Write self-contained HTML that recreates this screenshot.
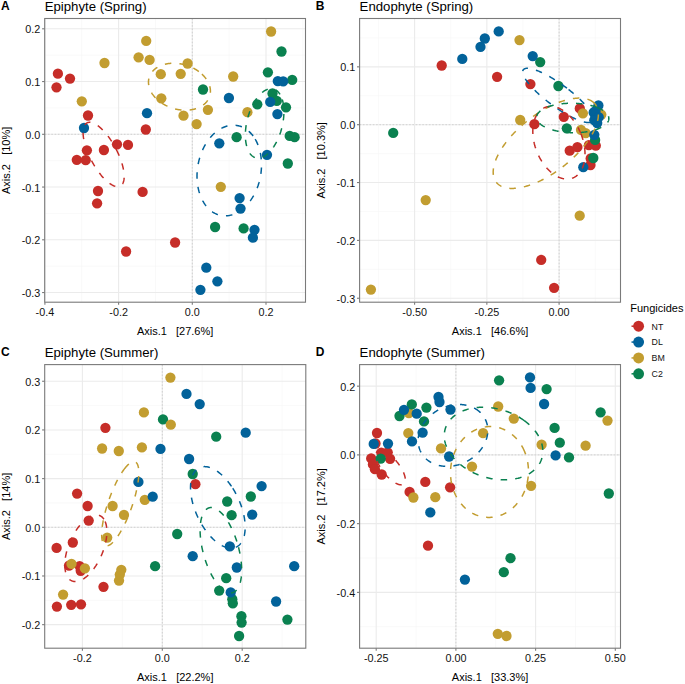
<!DOCTYPE html><html><head><meta charset="utf-8"><style>html,body{margin:0;padding:0;background:#fff;}svg{display:block;}</style></head><body>
<svg width="685" height="684" viewBox="0 0 685 684" font-family="'Liberation Sans', sans-serif">
<rect width="685" height="684" fill="#fff"/>
<line x1="81.75" y1="18.5" x2="81.75" y2="302.2" stroke="#F5F5F5" stroke-width="0.6"/>
<line x1="155.45" y1="18.5" x2="155.45" y2="302.2" stroke="#F5F5F5" stroke-width="0.6"/>
<line x1="229.15" y1="18.5" x2="229.15" y2="302.2" stroke="#F5F5F5" stroke-width="0.6"/>
<line x1="302.85" y1="18.5" x2="302.85" y2="302.2" stroke="#F5F5F5" stroke-width="0.6"/>
<line x1="44.7" y1="55.18" x2="305.5" y2="55.18" stroke="#F5F5F5" stroke-width="0.6"/>
<line x1="44.7" y1="107.93" x2="305.5" y2="107.93" stroke="#F5F5F5" stroke-width="0.6"/>
<line x1="44.7" y1="160.68" x2="305.5" y2="160.68" stroke="#F5F5F5" stroke-width="0.6"/>
<line x1="44.7" y1="213.43" x2="305.5" y2="213.43" stroke="#F5F5F5" stroke-width="0.6"/>
<line x1="44.7" y1="266.18" x2="305.5" y2="266.18" stroke="#F5F5F5" stroke-width="0.6"/>
<line x1="44.9" y1="18.5" x2="44.9" y2="302.2" stroke="#EBEBEB" stroke-width="1.1"/>
<line x1="118.6" y1="18.5" x2="118.6" y2="302.2" stroke="#EBEBEB" stroke-width="1.1"/>
<line x1="192.3" y1="18.5" x2="192.3" y2="302.2" stroke="#EBEBEB" stroke-width="1.1"/>
<line x1="266" y1="18.5" x2="266" y2="302.2" stroke="#EBEBEB" stroke-width="1.1"/>
<line x1="44.7" y1="28.8" x2="305.5" y2="28.8" stroke="#EBEBEB" stroke-width="1.1"/>
<line x1="44.7" y1="81.55" x2="305.5" y2="81.55" stroke="#EBEBEB" stroke-width="1.1"/>
<line x1="44.7" y1="134.3" x2="305.5" y2="134.3" stroke="#EBEBEB" stroke-width="1.1"/>
<line x1="44.7" y1="187.05" x2="305.5" y2="187.05" stroke="#EBEBEB" stroke-width="1.1"/>
<line x1="44.7" y1="239.8" x2="305.5" y2="239.8" stroke="#EBEBEB" stroke-width="1.1"/>
<line x1="44.7" y1="292.55" x2="305.5" y2="292.55" stroke="#EBEBEB" stroke-width="1.1"/>
<line x1="192.3" y1="18.5" x2="192.3" y2="302.2" stroke="#c4c4c4" stroke-width="0.7" stroke-dasharray="1.6 1.7"/>
<line x1="44.7" y1="134.3" x2="305.5" y2="134.3" stroke="#c4c4c4" stroke-width="0.7" stroke-dasharray="1.6 1.7"/>
<circle cx="57.9" cy="73.7" r="5.15" fill="#C62D28"/>
<circle cx="70" cy="78.6" r="5.15" fill="#C62D28"/>
<circle cx="56.5" cy="87.3" r="5.15" fill="#C62D28"/>
<circle cx="88" cy="115.5" r="5.15" fill="#C62D28"/>
<circle cx="86.9" cy="150.3" r="5.15" fill="#C62D28"/>
<circle cx="103.9" cy="150" r="5.15" fill="#C62D28"/>
<circle cx="117" cy="144.3" r="5.15" fill="#C62D28"/>
<circle cx="128" cy="144.9" r="5.15" fill="#C62D28"/>
<circle cx="145.8" cy="129.5" r="5.15" fill="#C62D28"/>
<circle cx="76.8" cy="159.8" r="5.15" fill="#C62D28"/>
<circle cx="85.7" cy="160.2" r="5.15" fill="#C62D28"/>
<circle cx="98" cy="191" r="5.15" fill="#C62D28"/>
<circle cx="97.1" cy="203.3" r="5.15" fill="#C62D28"/>
<circle cx="142.6" cy="191.9" r="5.15" fill="#C62D28"/>
<circle cx="126.1" cy="251.5" r="5.15" fill="#C62D28"/>
<circle cx="175.1" cy="242.5" r="5.15" fill="#C62D28"/>
<circle cx="146.2" cy="40.9" r="5.15" fill="#C29D30"/>
<circle cx="104.5" cy="63" r="5.15" fill="#C29D30"/>
<circle cx="138.6" cy="57.3" r="5.15" fill="#C29D30"/>
<circle cx="149.6" cy="59.9" r="5.15" fill="#C29D30"/>
<circle cx="160.8" cy="74.2" r="5.15" fill="#C29D30"/>
<circle cx="180.7" cy="73.8" r="5.15" fill="#C29D30"/>
<circle cx="187.6" cy="63.5" r="5.15" fill="#C29D30"/>
<circle cx="81.8" cy="101.3" r="5.15" fill="#C29D30"/>
<circle cx="161.3" cy="98.3" r="5.15" fill="#C29D30"/>
<circle cx="207.9" cy="109.8" r="5.15" fill="#C29D30"/>
<circle cx="183.5" cy="115.7" r="5.15" fill="#C29D30"/>
<circle cx="196.6" cy="124.1" r="5.15" fill="#C29D30"/>
<circle cx="233.2" cy="76.5" r="5.15" fill="#C29D30"/>
<circle cx="247.4" cy="112.2" r="5.15" fill="#C29D30"/>
<circle cx="271.1" cy="31.5" r="5.15" fill="#C29D30"/>
<circle cx="220.8" cy="186.8" r="5.15" fill="#C29D30"/>
<circle cx="281.5" cy="51.5" r="5.15" fill="#0A8150"/>
<circle cx="267.9" cy="72.3" r="5.15" fill="#0A8150"/>
<circle cx="292.2" cy="79.9" r="5.15" fill="#0A8150"/>
<circle cx="203" cy="89.5" r="5.15" fill="#0A8150"/>
<circle cx="272.5" cy="93.5" r="5.15" fill="#0A8150"/>
<circle cx="276.8" cy="100.9" r="5.15" fill="#0A8150"/>
<circle cx="257.3" cy="104.3" r="5.15" fill="#0A8150"/>
<circle cx="286" cy="107.3" r="5.15" fill="#0A8150"/>
<circle cx="236.6" cy="137.2" r="5.15" fill="#0A8150"/>
<circle cx="289.7" cy="135.9" r="5.15" fill="#0A8150"/>
<circle cx="294.6" cy="137.2" r="5.15" fill="#0A8150"/>
<circle cx="287.8" cy="163.5" r="5.15" fill="#0A8150"/>
<circle cx="215.1" cy="227" r="5.15" fill="#0A8150"/>
<circle cx="243.6" cy="228.4" r="5.15" fill="#0A8150"/>
<circle cx="84" cy="128" r="5.15" fill="#02629A"/>
<circle cx="147" cy="113.2" r="5.15" fill="#02629A"/>
<circle cx="228.9" cy="98" r="5.15" fill="#02629A"/>
<circle cx="277.8" cy="81.1" r="5.15" fill="#02629A"/>
<circle cx="283.2" cy="81.3" r="5.15" fill="#02629A"/>
<circle cx="277.4" cy="114.1" r="5.15" fill="#02629A"/>
<circle cx="219.3" cy="143.3" r="5.15" fill="#02629A"/>
<circle cx="267" cy="154.8" r="5.15" fill="#02629A"/>
<circle cx="239.6" cy="198.1" r="5.15" fill="#02629A"/>
<circle cx="240.5" cy="208.6" r="5.15" fill="#02629A"/>
<circle cx="254.5" cy="229.8" r="5.15" fill="#02629A"/>
<circle cx="252.9" cy="237.7" r="5.15" fill="#02629A"/>
<circle cx="206.3" cy="267.7" r="5.15" fill="#02629A"/>
<circle cx="217.4" cy="281.3" r="5.15" fill="#02629A"/>
<circle cx="200.4" cy="289.8" r="5.15" fill="#02629A"/>
<circle cx="270.2" cy="101.9" r="5.15" fill="#02629A"/>
<path d="M118.60,154.35 L118.30,153.67 L118.00,153.00 L117.69,152.33 L117.37,151.65 L117.05,150.98 L116.72,150.31 L116.39,149.65 L116.05,148.98 L115.70,148.32 L115.35,147.66 L114.99,147.00 L114.63,146.35 L114.27,145.70 L113.90,145.05 L113.52,144.41 L113.14,143.77 L112.76,143.13 L112.37,142.51 L111.98,141.88 L111.59,141.27 L111.19,140.65 L110.79,140.05 L110.38,139.45 L109.97,138.86 L109.56,138.27 L109.15,137.69 L108.73,137.12 L108.32,136.56 L107.90,136.00 L107.47,135.45 L107.05,134.91 L106.63,134.38 L106.20,133.86 L105.77,133.35 L105.34,132.84 L104.91,132.35 L104.48,131.86 L104.05,131.39 L103.62,130.92 L103.19,130.47 L102.76,130.03 L102.33,129.59 L101.90,129.17 L101.48,128.76 L101.05,128.36 L100.62,127.97 L100.20,127.60 L99.77,127.23 L99.35,126.88 L98.93,126.54 L98.51,126.21 L98.10,125.90 L97.68,125.59 L97.27,125.30 L96.87,125.02 L96.46,124.76 L96.06,124.51 L95.66,124.27 L95.27,124.04 L94.87,123.83 L94.49,123.63 L94.10,123.45 L93.72,123.28 L93.35,123.12 L92.98,122.97 L92.61,122.84 L92.25,122.73 L91.90,122.63 L91.55,122.54 L91.20,122.46 L90.86,122.40 L90.53,122.36 L90.20,122.32 L89.87,122.31 L89.56,122.30 L89.25,122.31 L88.94,122.34 L88.64,122.38 L88.35,122.43 L88.07,122.49 L87.79,122.58 L87.52,122.67 L87.26,122.78 L87.00,122.90 L86.75,123.04 L86.51,123.19 L86.27,123.35 L86.05,123.53 L85.83,123.72 L85.62,123.93 L85.41,124.14 L85.22,124.38 L85.03,124.62 L84.85,124.88 L84.68,125.15 L84.52,125.43 L84.36,125.73 L84.22,126.04 L84.08,126.36 L83.95,126.69 L83.83,127.04 L83.72,127.40 L83.62,127.77 L83.52,128.15 L83.44,128.54 L83.36,128.95 L83.30,129.36 L83.24,129.79 L83.19,130.23 L83.15,130.68 L83.12,131.13 L83.09,131.60 L83.08,132.08 L83.07,132.57 L83.08,133.07 L83.09,133.58 L83.12,134.09 L83.15,134.62 L83.19,135.16 L83.24,135.70 L83.30,136.25 L83.36,136.81 L83.44,137.38 L83.52,137.95 L83.62,138.53 L83.72,139.12 L83.83,139.72 L83.95,140.32 L84.08,140.93 L84.22,141.54 L84.36,142.16 L84.52,142.79 L84.68,143.42 L84.85,144.06 L85.03,144.70 L85.22,145.34 L85.41,145.99 L85.62,146.64 L85.83,147.30 L86.05,147.96 L86.27,148.62 L86.51,149.28 L86.75,149.95 L87.00,150.62 L87.26,151.29 L87.52,151.96 L87.79,152.63 L88.07,153.31 L88.35,153.98 L88.64,154.65 L88.94,155.33 L89.25,156.00 L89.56,156.68 L89.87,157.35 L90.20,158.02 L90.52,158.69 L90.86,159.36 L91.20,160.02 L91.54,160.68 L91.90,161.34 L92.25,162.00 L92.61,162.66 L92.98,163.31 L93.35,163.95 L93.72,164.60 L94.10,165.23 L94.49,165.87 L94.87,166.50 L95.26,167.12 L95.66,167.74 L96.06,168.35 L96.46,168.95 L96.87,169.55 L97.27,170.15 L97.68,170.73 L98.10,171.31 L98.51,171.88 L98.93,172.45 L99.35,173.00 L99.77,173.55 L100.20,174.09 L100.62,174.62 L101.05,175.14 L101.47,175.66 L101.90,176.16 L102.33,176.65 L102.76,177.14 L103.19,177.61 L103.62,178.08 L104.05,178.53 L104.48,178.98 L104.91,179.41 L105.34,179.83 L105.77,180.24 L106.20,180.64 L106.62,181.03 L107.05,181.40 L107.47,181.77 L107.90,182.12 L108.32,182.46 L108.73,182.79 L109.15,183.11 L109.56,183.41 L109.97,183.70 L110.38,183.98 L110.79,184.24 L111.19,184.49 L111.59,184.73 L111.98,184.96 L112.37,185.17 L112.76,185.37 L113.14,185.55 L113.52,185.73 L113.90,185.88 L114.27,186.03 L114.63,186.16 L114.99,186.27 L115.35,186.38 L115.70,186.46 L116.05,186.54 L116.39,186.60 L116.72,186.65 L117.05,186.68 L117.37,186.70 L117.69,186.70 L118.00,186.69 L118.30,186.67 L118.60,186.63 L118.89,186.57 L119.18,186.51 L119.46,186.43 L119.73,186.33 L119.99,186.22 L120.25,186.10 L120.50,185.96 L120.74,185.81 L120.97,185.65 L121.20,185.47 L121.42,185.28 L121.63,185.08 L121.83,184.86 L122.03,184.63 L122.22,184.38 L122.39,184.12 L122.57,183.85 L122.73,183.57 L122.88,183.27 L123.03,182.96 L123.17,182.64 L123.29,182.31 L123.41,181.96 L123.53,181.61 L123.63,181.24 L123.72,180.85 L123.81,180.46 L123.88,180.06 L123.95,179.64 L124.01,179.21 L124.06,178.78 L124.10,178.33 L124.13,177.87 L124.15,177.40 L124.17,176.92 L124.17,176.43 L124.17,175.93 L124.15,175.42 L124.13,174.91 L124.10,174.38 L124.06,173.85 L124.01,173.30 L123.95,172.75 L123.88,172.19 L123.81,171.63 L123.72,171.05 L123.63,170.47 L123.53,169.88 L123.41,169.28 L123.29,168.68 L123.17,168.07 L123.03,167.46 L122.88,166.84 L122.73,166.21 L122.57,165.58 L122.40,164.95 L122.22,164.31 L122.03,163.66 L121.83,163.01 L121.63,162.36 L121.42,161.71 L121.20,161.05 L120.97,160.38 L120.74,159.72 L120.50,159.05 L120.25,158.39 L119.99,157.72 L119.73,157.04 L119.46,156.37 L119.18,155.70 L118.89,155.02 L118.60,154.35 L118.60,154.35" fill="none" stroke="#C62D28" stroke-width="1.5" stroke-dasharray="6.5 8.16"/>
<path d="M198.82,71.55 L198.31,71.18 L197.79,70.81 L197.26,70.45 L196.73,70.10 L196.18,69.76 L195.63,69.42 L195.08,69.09 L194.51,68.77 L193.94,68.46 L193.37,68.15 L192.78,67.85 L192.20,67.56 L191.60,67.28 L191.00,67.01 L190.40,66.75 L189.79,66.49 L189.18,66.25 L188.56,66.01 L187.94,65.78 L187.31,65.56 L186.68,65.35 L186.05,65.15 L185.41,64.96 L184.78,64.78 L184.14,64.61 L183.49,64.45 L182.85,64.30 L182.20,64.15 L181.56,64.02 L180.91,63.90 L180.26,63.79 L179.61,63.68 L178.96,63.59 L178.32,63.51 L177.67,63.44 L177.02,63.38 L176.37,63.33 L175.73,63.28 L175.09,63.25 L174.44,63.23 L173.81,63.22 L173.17,63.22 L172.54,63.23 L171.90,63.25 L171.28,63.28 L170.65,63.33 L170.03,63.38 L169.42,63.44 L168.81,63.51 L168.20,63.59 L167.60,63.68 L167.00,63.79 L166.41,63.90 L165.82,64.02 L165.24,64.15 L164.67,64.30 L164.10,64.45 L163.54,64.61 L162.99,64.78 L162.45,64.96 L161.91,65.15 L161.38,65.35 L160.85,65.56 L160.34,65.78 L159.83,66.01 L159.34,66.25 L158.85,66.49 L158.37,66.75 L157.90,67.01 L157.44,67.29 L156.98,67.57 L156.54,67.86 L156.11,68.15 L155.69,68.46 L155.28,68.77 L154.88,69.09 L154.49,69.42 L154.11,69.76 L153.74,70.10 L153.39,70.46 L153.04,70.82 L152.71,71.18 L152.39,71.55 L152.08,71.93 L151.78,72.32 L151.50,72.71 L151.22,73.11 L150.96,73.51 L150.71,73.92 L150.48,74.34 L150.26,74.76 L150.04,75.19 L149.85,75.62 L149.66,76.05 L149.49,76.49 L149.33,76.94 L149.19,77.39 L149.06,77.84 L148.94,78.30 L148.84,78.76 L148.74,79.23 L148.67,79.69 L148.60,80.17 L148.55,80.64 L148.51,81.12 L148.49,81.60 L148.48,82.08 L148.48,82.56 L148.50,83.05 L148.53,83.53 L148.57,84.02 L148.63,84.51 L148.70,85.00 L148.79,85.49 L148.89,85.98 L149.00,86.48 L149.12,86.97 L149.26,87.46 L149.41,87.95 L149.58,88.44 L149.75,88.93 L149.95,89.42 L150.15,89.91 L150.37,90.40 L150.60,90.88 L150.84,91.37 L151.09,91.85 L151.36,92.33 L151.64,92.80 L151.93,93.28 L152.23,93.75 L152.55,94.22 L152.88,94.68 L153.21,95.14 L153.57,95.60 L153.93,96.06 L154.30,96.50 L154.68,96.95 L155.08,97.39 L155.48,97.83 L155.90,98.26 L156.33,98.68 L156.76,99.11 L157.21,99.52 L157.67,99.93 L158.13,100.34 L158.61,100.73 L159.09,101.13 L159.59,101.51 L160.09,101.89 L160.60,102.26 L161.12,102.63 L161.64,102.99 L162.18,103.34 L162.72,103.68 L163.27,104.02 L163.83,104.35 L164.39,104.67 L164.96,104.98 L165.54,105.29 L166.12,105.59 L166.71,105.88 L167.30,106.16 L167.90,106.43 L168.51,106.69 L169.11,106.95 L169.73,107.20 L170.35,107.43 L170.97,107.66 L171.59,107.88 L172.22,108.09 L172.86,108.29 L173.49,108.48 L174.13,108.66 L174.77,108.83 L175.41,108.99 L176.05,109.15 L176.70,109.29 L177.35,109.42 L177.99,109.54 L178.64,109.66 L179.29,109.76 L179.94,109.85 L180.59,109.93 L181.24,110.00 L181.88,110.07 L182.53,110.12 L183.17,110.16 L183.82,110.19 L184.46,110.21 L185.10,110.22 L185.73,110.22 L186.37,110.21 L187.00,110.19 L187.63,110.16 L188.25,110.12 L188.87,110.07 L189.49,110.00 L190.10,109.93 L190.70,109.85 L191.31,109.76 L191.90,109.66 L192.49,109.54 L193.08,109.42 L193.66,109.29 L194.23,109.15 L194.80,108.99 L195.36,108.83 L195.91,108.66 L196.46,108.48 L197.00,108.29 L197.53,108.09 L198.05,107.88 L198.56,107.66 L199.07,107.43 L199.57,107.19 L200.06,106.95 L200.54,106.69 L201.01,106.43 L201.47,106.16 L201.92,105.88 L202.36,105.59 L202.79,105.29 L203.21,104.98 L203.62,104.67 L204.03,104.35 L204.41,104.02 L204.79,103.68 L205.16,103.34 L205.52,102.99 L205.86,102.63 L206.19,102.26 L206.52,101.89 L206.83,101.51 L207.12,101.12 L207.41,100.73 L207.68,100.33 L207.94,99.93 L208.19,99.52 L208.43,99.10 L208.65,98.68 L208.86,98.26 L209.06,97.83 L209.24,97.39 L209.41,96.95 L209.57,96.50 L209.71,96.05 L209.85,95.60 L209.96,95.14 L210.07,94.68 L210.16,94.22 L210.24,93.75 L210.30,93.28 L210.35,92.80 L210.39,92.33 L210.41,91.85 L210.42,91.37 L210.42,90.88 L210.40,90.40 L210.37,89.91 L210.33,89.42 L210.27,88.93 L210.20,88.44 L210.12,87.95 L210.02,87.46 L209.91,86.97 L209.78,86.47 L209.64,85.98 L209.49,85.49 L209.33,85.00 L209.15,84.51 L208.96,84.02 L208.75,83.53 L208.54,83.04 L208.31,82.56 L208.07,82.08 L207.81,81.59 L207.54,81.11 L207.27,80.64 L206.97,80.16 L206.67,79.69 L206.35,79.22 L206.03,78.76 L205.69,78.30 L205.34,77.84 L204.98,77.39 L204.60,76.94 L204.22,76.49 L203.82,76.05 L203.42,75.62 L203.00,75.18 L202.58,74.76 L202.14,74.34 L201.69,73.92 L201.24,73.51 L200.77,73.11 L200.30,72.71 L199.81,72.32 L199.32,71.93 L198.82,71.55 L198.82,71.55" fill="none" stroke="#C29D30" stroke-width="1.5" stroke-dasharray="6.5 8.14"/>
<path d="M253.13,136.03 L252.67,135.42 L252.20,134.83 L251.72,134.25 L251.23,133.69 L250.73,133.14 L250.22,132.62 L249.70,132.10 L249.18,131.61 L248.64,131.13 L248.10,130.67 L247.55,130.23 L246.98,129.80 L246.42,129.39 L245.84,129.00 L245.26,128.63 L244.67,128.28 L244.07,127.94 L243.47,127.63 L242.86,127.33 L242.24,127.05 L241.62,126.79 L241.00,126.55 L240.36,126.33 L239.73,126.13 L239.09,125.95 L238.44,125.79 L237.79,125.64 L237.14,125.52 L236.48,125.42 L235.82,125.33 L235.16,125.27 L234.49,125.23 L233.83,125.20 L233.16,125.20 L232.48,125.21 L231.81,125.25 L231.14,125.30 L230.46,125.38 L229.79,125.47 L229.11,125.59 L228.44,125.72 L227.76,125.88 L227.09,126.05 L226.41,126.25 L225.74,126.46 L225.07,126.69 L224.40,126.94 L223.74,127.21 L223.07,127.50 L222.41,127.81 L221.75,128.14 L221.10,128.48 L220.45,128.85 L219.80,129.23 L219.15,129.63 L218.52,130.05 L217.88,130.48 L217.25,130.94 L216.63,131.41 L216.01,131.89 L215.40,132.40 L214.79,132.92 L214.19,133.46 L213.59,134.01 L213.01,134.58 L212.43,135.17 L211.86,135.77 L211.29,136.39 L210.73,137.02 L210.18,137.67 L209.64,138.33 L209.11,139.00 L208.59,139.69 L208.08,140.40 L207.57,141.11 L207.08,141.84 L206.59,142.58 L206.12,143.33 L205.65,144.10 L205.20,144.88 L204.75,145.66 L204.32,146.46 L203.89,147.27 L203.48,148.09 L203.08,148.92 L202.69,149.76 L202.32,150.61 L201.95,151.47 L201.60,152.33 L201.26,153.21 L200.93,154.09 L200.61,154.97 L200.31,155.87 L200.02,156.77 L199.74,157.68 L199.47,158.59 L199.22,159.51 L198.98,160.43 L198.76,161.36 L198.54,162.29 L198.34,163.23 L198.16,164.16 L197.99,165.11 L197.83,166.05 L197.68,166.99 L197.55,167.94 L197.44,168.89 L197.33,169.84 L197.25,170.79 L197.17,171.74 L197.11,172.68 L197.06,173.63 L197.03,174.58 L197.01,175.52 L197.01,176.46 L197.02,177.40 L197.04,178.34 L197.08,179.27 L197.14,180.20 L197.20,181.13 L197.28,182.05 L197.38,182.96 L197.49,183.87 L197.61,184.78 L197.75,185.67 L197.90,186.57 L198.06,187.45 L198.24,188.33 L198.43,189.19 L198.63,190.05 L198.85,190.91 L199.08,191.75 L199.33,192.58 L199.59,193.41 L199.86,194.22 L200.14,195.02 L200.44,195.82 L200.75,196.60 L201.07,197.37 L201.40,198.13 L201.75,198.87 L202.11,199.61 L202.48,200.33 L202.86,201.04 L203.26,201.73 L203.66,202.41 L204.08,203.08 L204.50,203.73 L204.94,204.37 L205.39,204.99 L205.85,205.60 L206.32,206.19 L206.80,206.77 L207.29,207.33 L207.79,207.88 L208.30,208.41 L208.82,208.92 L209.34,209.41 L209.88,209.89 L210.42,210.35 L210.98,210.80 L211.54,211.22 L212.10,211.63 L212.68,212.02 L213.26,212.39 L213.85,212.74 L214.45,213.08 L215.05,213.40 L215.66,213.69 L216.28,213.97 L216.90,214.23 L217.53,214.47 L218.16,214.69 L218.79,214.89 L219.43,215.07 L220.08,215.24 L220.73,215.38 L221.38,215.50 L222.04,215.61 L222.70,215.69 L223.36,215.75 L224.03,215.80 L224.69,215.82 L225.36,215.82 L226.04,215.81 L226.71,215.77 L227.38,215.72 L228.06,215.64 L228.73,215.55 L229.41,215.43 L230.08,215.30 L230.76,215.14 L231.43,214.97 L232.11,214.78 L232.78,214.56 L233.45,214.33 L234.12,214.08 L234.78,213.81 L235.45,213.52 L236.11,213.21 L236.77,212.89 L237.42,212.54 L238.07,212.18 L238.72,211.79 L239.37,211.39 L240.01,210.98 L240.64,210.54 L241.27,210.09 L241.89,209.62 L242.51,209.13 L243.12,208.62 L243.73,208.10 L244.33,207.56 L244.93,207.01 L245.51,206.44 L246.09,205.85 L246.67,205.25 L247.23,204.63 L247.79,204.00 L248.34,203.35 L248.88,202.69 L249.41,202.02 L249.93,201.33 L250.44,200.63 L250.95,199.91 L251.44,199.18 L251.93,198.44 L252.41,197.69 L252.87,196.92 L253.33,196.15 L253.77,195.36 L254.20,194.56 L254.63,193.75 L255.04,192.93 L255.44,192.10 L255.83,191.26 L256.20,190.41 L256.57,189.55 L256.92,188.69 L257.26,187.82 L257.59,186.94 L257.91,186.05 L258.21,185.15 L258.50,184.25 L258.78,183.34 L259.05,182.43 L259.30,181.51 L259.54,180.59 L259.77,179.66 L259.98,178.73 L260.18,177.80 L260.36,176.86 L260.53,175.92 L260.69,174.97 L260.84,174.03 L260.97,173.08 L261.08,172.13 L261.19,171.18 L261.27,170.23 L261.35,169.29 L261.41,168.34 L261.46,167.39 L261.49,166.44 L261.51,165.50 L261.51,164.56 L261.50,163.62 L261.48,162.68 L261.44,161.75 L261.39,160.82 L261.32,159.89 L261.24,158.97 L261.14,158.06 L261.03,157.15 L260.91,156.25 L260.78,155.35 L260.62,154.46 L260.46,153.57 L260.28,152.70 L260.09,151.83 L259.89,150.97 L259.67,150.12 L259.44,149.27 L259.19,148.44 L258.93,147.62 L258.66,146.80 L258.38,146.00 L258.08,145.20 L257.77,144.42 L257.45,143.65 L257.12,142.89 L256.77,142.15 L256.41,141.41 L256.04,140.69 L255.66,139.99 L255.26,139.29 L254.86,138.61 L254.44,137.94 L254.02,137.29 L253.58,136.65 L253.13,136.03 L253.13,136.03" fill="none" stroke="#02629A" stroke-width="1.5" stroke-dasharray="6.5 8.18"/>
<path d="M280.07,94.47 L279.82,94.07 L279.57,93.69 L279.31,93.33 L279.05,92.97 L278.77,92.63 L278.50,92.30 L278.21,91.99 L277.92,91.69 L277.63,91.40 L277.33,91.13 L277.02,90.87 L276.71,90.62 L276.39,90.39 L276.07,90.18 L275.74,89.98 L275.41,89.79 L275.07,89.62 L274.73,89.46 L274.38,89.32 L274.03,89.19 L273.67,89.08 L273.31,88.99 L272.95,88.90 L272.59,88.84 L272.22,88.79 L271.84,88.75 L271.47,88.73 L271.09,88.72 L270.71,88.73 L270.32,88.76 L269.93,88.80 L269.54,88.85 L269.15,88.92 L268.76,89.01 L268.36,89.11 L267.97,89.23 L267.57,89.36 L267.17,89.50 L266.77,89.66 L266.37,89.84 L265.96,90.03 L265.56,90.23 L265.16,90.45 L264.75,90.69 L264.35,90.93 L263.95,91.20 L263.54,91.47 L263.14,91.76 L262.74,92.07 L262.34,92.38 L261.93,92.72 L261.54,93.06 L261.14,93.42 L260.74,93.79 L260.35,94.18 L259.95,94.57 L259.56,94.98 L259.18,95.41 L258.79,95.84 L258.41,96.29 L258.02,96.75 L257.65,97.22 L257.27,97.70 L256.90,98.19 L256.53,98.70 L256.17,99.21 L255.81,99.74 L255.45,100.27 L255.10,100.82 L254.75,101.38 L254.40,101.94 L254.06,102.52 L253.73,103.10 L253.40,103.70 L253.07,104.30 L252.75,104.91 L252.44,105.53 L252.13,106.15 L251.82,106.79 L251.52,107.43 L251.23,108.08 L250.94,108.73 L250.66,109.39 L250.39,110.06 L250.12,110.74 L249.86,111.41 L249.60,112.10 L249.35,112.79 L249.11,113.48 L248.87,114.18 L248.64,114.88 L248.42,115.59 L248.21,116.30 L248.00,117.01 L247.80,117.73 L247.61,118.45 L247.42,119.17 L247.24,119.89 L247.07,120.61 L246.91,121.34 L246.76,122.06 L246.61,122.79 L246.47,123.51 L246.34,124.24 L246.22,124.97 L246.10,125.69 L245.99,126.42 L245.90,127.14 L245.81,127.86 L245.72,128.58 L245.65,129.30 L245.58,130.01 L245.53,130.73 L245.48,131.43 L245.44,132.14 L245.41,132.84 L245.38,133.54 L245.37,134.23 L245.36,134.92 L245.36,135.60 L245.37,136.28 L245.39,136.95 L245.42,137.62 L245.46,138.28 L245.50,138.93 L245.55,139.58 L245.61,140.22 L245.68,140.85 L245.76,141.47 L245.85,142.09 L245.94,142.70 L246.04,143.30 L246.15,143.89 L246.27,144.47 L246.40,145.05 L246.53,145.61 L246.68,146.16 L246.83,146.71 L246.98,147.24 L247.15,147.76 L247.32,148.28 L247.51,148.78 L247.69,149.27 L247.89,149.75 L248.09,150.21 L248.30,150.67 L248.52,151.11 L248.75,151.54 L248.98,151.96 L249.22,152.37 L249.46,152.77 L249.72,153.15 L249.98,153.51 L250.24,153.87 L250.51,154.21 L250.79,154.54 L251.07,154.85 L251.36,155.15 L251.66,155.44 L251.96,155.71 L252.27,155.97 L252.58,156.22 L252.90,156.45 L253.22,156.66 L253.55,156.86 L253.88,157.05 L254.22,157.22 L254.56,157.38 L254.91,157.52 L255.26,157.65 L255.61,157.76 L255.97,157.85 L256.34,157.94 L256.70,158.00 L257.07,158.05 L257.44,158.09 L257.82,158.11 L258.20,158.12 L258.58,158.11 L258.97,158.08 L259.35,158.04 L259.74,157.99 L260.13,157.92 L260.53,157.83 L260.92,157.73 L261.32,157.61 L261.72,157.48 L262.12,157.34 L262.52,157.18 L262.92,157.00 L263.32,156.81 L263.73,156.61 L264.13,156.39 L264.53,156.15 L264.94,155.91 L265.34,155.64 L265.75,155.37 L266.15,155.08 L266.55,154.77 L266.95,154.46 L267.35,154.12 L267.75,153.78 L268.15,153.42 L268.55,153.05 L268.94,152.66 L269.33,152.27 L269.72,151.86 L270.11,151.43 L270.50,151.00 L270.88,150.55 L271.26,150.09 L271.64,149.62 L272.02,149.14 L272.39,148.65 L272.76,148.14 L273.12,147.63 L273.48,147.10 L273.84,146.57 L274.19,146.02 L274.54,145.46 L274.88,144.90 L275.22,144.32 L275.56,143.74 L275.89,143.14 L276.21,142.54 L276.54,141.93 L276.85,141.31 L277.16,140.69 L277.47,140.05 L277.76,139.41 L278.06,138.76 L278.34,138.11 L278.63,137.45 L278.90,136.78 L279.17,136.10 L279.43,135.43 L279.69,134.74 L279.94,134.05 L280.18,133.36 L280.42,132.66 L280.64,131.96 L280.87,131.25 L281.08,130.54 L281.29,129.83 L281.49,129.11 L281.68,128.39 L281.87,127.67 L282.04,126.95 L282.21,126.23 L282.38,125.50 L282.53,124.78 L282.68,124.05 L282.82,123.33 L282.95,122.60 L283.07,121.87 L283.19,121.15 L283.29,120.42 L283.39,119.70 L283.48,118.98 L283.56,118.26 L283.64,117.54 L283.70,116.83 L283.76,116.11 L283.81,115.41 L283.85,114.70 L283.88,114.00 L283.90,113.30 L283.92,112.61 L283.93,111.92 L283.92,111.24 L283.91,110.56 L283.89,109.89 L283.87,109.22 L283.83,108.56 L283.79,107.91 L283.74,107.26 L283.67,106.62 L283.60,105.99 L283.53,105.37 L283.44,104.75 L283.35,104.14 L283.24,103.54 L283.13,102.95 L283.02,102.37 L282.89,101.79 L282.75,101.23 L282.61,100.68 L282.46,100.13 L282.30,99.60 L282.14,99.08 L281.96,98.56 L281.78,98.06 L281.59,97.57 L281.40,97.09 L281.19,96.63 L280.98,96.17 L280.76,95.73 L280.54,95.30 L280.31,94.88 L280.07,94.47 L280.07,94.47" fill="none" stroke="#0A8150" stroke-width="1.5" stroke-dasharray="6.5 8.04"/>
<rect x="44.7" y="18.5" width="260.8" height="283.7" fill="none" stroke="#7a7a7a" stroke-width="1.1"/>
<line x1="44.9" y1="302.2" x2="44.9" y2="304.8" stroke="#7a7a7a" stroke-width="1.1"/>
<text x="44.9" y="315.7" font-size="10.8" fill="#111" text-anchor="middle">-0.4</text>
<line x1="118.6" y1="302.2" x2="118.6" y2="304.8" stroke="#7a7a7a" stroke-width="1.1"/>
<text x="118.6" y="315.7" font-size="10.8" fill="#111" text-anchor="middle">-0.2</text>
<line x1="192.3" y1="302.2" x2="192.3" y2="304.8" stroke="#7a7a7a" stroke-width="1.1"/>
<text x="192.3" y="315.7" font-size="10.8" fill="#111" text-anchor="middle">0.0</text>
<line x1="266" y1="302.2" x2="266" y2="304.8" stroke="#7a7a7a" stroke-width="1.1"/>
<text x="266" y="315.7" font-size="10.8" fill="#111" text-anchor="middle">0.2</text>
<line x1="42.1" y1="28.8" x2="44.7" y2="28.8" stroke="#7a7a7a" stroke-width="1.1"/>
<text x="40.3" y="33.3" font-size="10.8" fill="#111" text-anchor="end">0.2</text>
<line x1="42.1" y1="81.55" x2="44.7" y2="81.55" stroke="#7a7a7a" stroke-width="1.1"/>
<text x="40.3" y="86.05" font-size="10.8" fill="#111" text-anchor="end">0.1</text>
<line x1="42.1" y1="134.3" x2="44.7" y2="134.3" stroke="#7a7a7a" stroke-width="1.1"/>
<text x="40.3" y="138.8" font-size="10.8" fill="#111" text-anchor="end">0.0</text>
<line x1="42.1" y1="187.05" x2="44.7" y2="187.05" stroke="#7a7a7a" stroke-width="1.1"/>
<text x="40.3" y="191.55" font-size="10.8" fill="#111" text-anchor="end">-0.1</text>
<line x1="42.1" y1="239.8" x2="44.7" y2="239.8" stroke="#7a7a7a" stroke-width="1.1"/>
<text x="40.3" y="244.3" font-size="10.8" fill="#111" text-anchor="end">-0.2</text>
<line x1="42.1" y1="292.55" x2="44.7" y2="292.55" stroke="#7a7a7a" stroke-width="1.1"/>
<text x="40.3" y="297.05" font-size="10.8" fill="#111" text-anchor="end">-0.3</text>
<text x="175.1" y="334.8" font-size="11" fill="#000" text-anchor="middle" xml:space="preserve">Axis.1   [27.6%]</text>
<text x="10.1" y="160.35" font-size="11" fill="#000" text-anchor="middle" transform="rotate(-90 10.1 160.35)" xml:space="preserve">Axis.2   [10%]</text>
<text x="44.7" y="10.9" font-size="13.2" fill="#000">Epiphyte (Spring)</text>
<text x="0.9" y="10.1" font-size="12" font-weight="bold" fill="#000">A</text>
<line x1="378.48" y1="18.5" x2="378.48" y2="302.2" stroke="#F5F5F5" stroke-width="0.6"/>
<line x1="450.73" y1="18.5" x2="450.73" y2="302.2" stroke="#F5F5F5" stroke-width="0.6"/>
<line x1="522.98" y1="18.5" x2="522.98" y2="302.2" stroke="#F5F5F5" stroke-width="0.6"/>
<line x1="595.23" y1="18.5" x2="595.23" y2="302.2" stroke="#F5F5F5" stroke-width="0.6"/>
<line x1="359.6" y1="37.93" x2="620.5" y2="37.93" stroke="#F5F5F5" stroke-width="0.6"/>
<line x1="359.6" y1="95.78" x2="620.5" y2="95.78" stroke="#F5F5F5" stroke-width="0.6"/>
<line x1="359.6" y1="153.62" x2="620.5" y2="153.62" stroke="#F5F5F5" stroke-width="0.6"/>
<line x1="359.6" y1="211.47" x2="620.5" y2="211.47" stroke="#F5F5F5" stroke-width="0.6"/>
<line x1="359.6" y1="269.32" x2="620.5" y2="269.32" stroke="#F5F5F5" stroke-width="0.6"/>
<line x1="414.6" y1="18.5" x2="414.6" y2="302.2" stroke="#EBEBEB" stroke-width="1.1"/>
<line x1="486.85" y1="18.5" x2="486.85" y2="302.2" stroke="#EBEBEB" stroke-width="1.1"/>
<line x1="559.1" y1="18.5" x2="559.1" y2="302.2" stroke="#EBEBEB" stroke-width="1.1"/>
<line x1="359.6" y1="66.85" x2="620.5" y2="66.85" stroke="#EBEBEB" stroke-width="1.1"/>
<line x1="359.6" y1="124.7" x2="620.5" y2="124.7" stroke="#EBEBEB" stroke-width="1.1"/>
<line x1="359.6" y1="182.55" x2="620.5" y2="182.55" stroke="#EBEBEB" stroke-width="1.1"/>
<line x1="359.6" y1="240.4" x2="620.5" y2="240.4" stroke="#EBEBEB" stroke-width="1.1"/>
<line x1="359.6" y1="298.25" x2="620.5" y2="298.25" stroke="#EBEBEB" stroke-width="1.1"/>
<line x1="559.1" y1="18.5" x2="559.1" y2="302.2" stroke="#c4c4c4" stroke-width="0.7" stroke-dasharray="1.6 1.7"/>
<line x1="359.6" y1="124.7" x2="620.5" y2="124.7" stroke="#c4c4c4" stroke-width="0.7" stroke-dasharray="1.6 1.7"/>
<circle cx="441.7" cy="65.5" r="5.15" fill="#C62D28"/>
<circle cx="497.1" cy="76.8" r="5.15" fill="#C62D28"/>
<circle cx="530.4" cy="84.1" r="5.15" fill="#C62D28"/>
<circle cx="534.4" cy="124.2" r="5.15" fill="#C62D28"/>
<circle cx="563.8" cy="116.8" r="5.15" fill="#C62D28"/>
<circle cx="579.8" cy="108.4" r="5.15" fill="#C62D28"/>
<circle cx="588.9" cy="145.2" r="5.15" fill="#C62D28"/>
<circle cx="595.8" cy="145.7" r="5.15" fill="#C62D28"/>
<circle cx="569.7" cy="150.7" r="5.15" fill="#C62D28"/>
<circle cx="577.4" cy="147.1" r="5.15" fill="#C62D28"/>
<circle cx="590.5" cy="165" r="5.15" fill="#C62D28"/>
<circle cx="590.7" cy="158.5" r="5.15" fill="#C62D28"/>
<circle cx="541.2" cy="259.9" r="5.15" fill="#C62D28"/>
<circle cx="554.1" cy="287.8" r="5.15" fill="#C62D28"/>
<circle cx="519.5" cy="40.1" r="5.15" fill="#C29D30"/>
<circle cx="520.2" cy="120" r="5.15" fill="#C29D30"/>
<circle cx="601.3" cy="114.6" r="5.15" fill="#C29D30"/>
<circle cx="582.9" cy="113.3" r="5.15" fill="#C29D30"/>
<circle cx="581" cy="129.9" r="5.15" fill="#C29D30"/>
<circle cx="585.7" cy="133.1" r="5.15" fill="#C29D30"/>
<circle cx="579.7" cy="215.7" r="5.15" fill="#C29D30"/>
<circle cx="425.7" cy="200.1" r="5.15" fill="#C29D30"/>
<circle cx="370.9" cy="289.6" r="5.15" fill="#C29D30"/>
<circle cx="393.2" cy="132.9" r="5.15" fill="#0A8150"/>
<circle cx="540.2" cy="62.1" r="5.15" fill="#0A8150"/>
<circle cx="558.4" cy="86" r="5.15" fill="#0A8150"/>
<circle cx="566.8" cy="128.3" r="5.15" fill="#0A8150"/>
<circle cx="595.1" cy="139.9" r="5.15" fill="#0A8150"/>
<circle cx="593.3" cy="158" r="5.15" fill="#0A8150"/>
<circle cx="498.7" cy="31.4" r="5.15" fill="#02629A"/>
<circle cx="484.8" cy="38.5" r="5.15" fill="#02629A"/>
<circle cx="480.5" cy="46.9" r="5.15" fill="#02629A"/>
<circle cx="462.3" cy="58.9" r="5.15" fill="#02629A"/>
<circle cx="532.7" cy="56.1" r="5.15" fill="#02629A"/>
<circle cx="598.4" cy="105.5" r="5.15" fill="#02629A"/>
<circle cx="593.7" cy="112.5" r="5.15" fill="#02629A"/>
<circle cx="595.4" cy="111.2" r="5.15" fill="#02629A"/>
<circle cx="598.7" cy="117.2" r="5.15" fill="#02629A"/>
<circle cx="594.3" cy="120.2" r="5.15" fill="#02629A"/>
<circle cx="597.2" cy="123.1" r="5.15" fill="#02629A"/>
<circle cx="594.3" cy="134.8" r="5.15" fill="#02629A"/>
<circle cx="583.3" cy="167.2" r="5.15" fill="#02629A"/>
<path d="M566.96,88.23 L566.24,87.68 L565.52,87.14 L564.80,86.60 L564.07,86.06 L563.34,85.53 L562.61,85.00 L561.87,84.48 L561.14,83.96 L560.40,83.45 L559.66,82.94 L558.92,82.44 L558.18,81.95 L557.44,81.46 L556.70,80.97 L555.96,80.49 L555.23,80.02 L554.49,79.56 L553.75,79.10 L553.02,78.65 L552.29,78.21 L551.56,77.77 L550.84,77.34 L550.11,76.92 L549.39,76.51 L548.68,76.11 L547.97,75.71 L547.26,75.33 L546.56,74.95 L545.86,74.58 L545.17,74.22 L544.48,73.87 L543.80,73.53 L543.13,73.20 L542.46,72.88 L541.80,72.57 L541.14,72.27 L540.50,71.98 L539.86,71.70 L539.23,71.42 L538.61,71.16 L537.99,70.92 L537.39,70.68 L536.79,70.45 L536.20,70.23 L535.63,70.03 L535.06,69.83 L534.50,69.65 L533.95,69.48 L533.42,69.32 L532.89,69.17 L532.37,69.03 L531.87,68.90 L531.38,68.79 L530.90,68.69 L530.43,68.60 L529.97,68.52 L529.53,68.45 L529.10,68.39 L528.68,68.35 L528.27,68.32 L527.88,68.30 L527.50,68.29 L527.13,68.29 L526.78,68.31 L526.44,68.34 L526.11,68.38 L525.80,68.43 L525.50,68.49 L525.22,68.57 L524.95,68.65 L524.69,68.75 L524.45,68.86 L524.23,68.98 L524.02,69.12 L523.82,69.26 L523.64,69.42 L523.48,69.59 L523.33,69.77 L523.19,69.96 L523.07,70.16 L522.97,70.37 L522.88,70.60 L522.80,70.83 L522.74,71.08 L522.70,71.33 L522.67,71.60 L522.66,71.88 L522.67,72.16 L522.68,72.46 L522.72,72.77 L522.77,73.09 L522.83,73.41 L522.91,73.75 L523.01,74.10 L523.12,74.45 L523.25,74.82 L523.39,75.19 L523.55,75.58 L523.72,75.97 L523.91,76.37 L524.11,76.78 L524.33,77.20 L524.56,77.62 L524.80,78.05 L525.07,78.49 L525.34,78.94 L525.63,79.40 L525.93,79.86 L526.25,80.33 L526.58,80.80 L526.93,81.29 L527.29,81.77 L527.66,82.27 L528.05,82.77 L528.45,83.27 L528.86,83.78 L529.28,84.30 L529.72,84.82 L530.17,85.35 L530.63,85.88 L531.11,86.41 L531.59,86.95 L532.09,87.49 L532.60,88.04 L533.12,88.58 L533.65,89.14 L534.19,89.69 L534.74,90.25 L535.31,90.81 L535.88,91.37 L536.46,91.93 L537.05,92.49 L537.65,93.06 L538.26,93.63 L538.88,94.19 L539.50,94.76 L540.14,95.33 L540.78,95.90 L541.43,96.47 L542.09,97.03 L542.75,97.60 L543.42,98.17 L544.10,98.73 L544.78,99.30 L545.47,99.86 L546.17,100.42 L546.87,100.98 L547.57,101.53 L548.28,102.08 L548.99,102.63 L549.71,103.18 L550.43,103.72 L551.15,104.26 L551.88,104.80 L552.61,105.33 L553.34,105.86 L554.08,106.38 L554.81,106.90 L555.55,107.41 L556.29,107.92 L557.03,108.42 L557.77,108.91 L558.51,109.40 L559.25,109.89 L559.99,110.37 L560.72,110.84 L561.46,111.30 L562.20,111.76 L562.93,112.21 L563.66,112.65 L564.39,113.09 L565.11,113.52 L565.84,113.94 L566.56,114.35 L567.27,114.75 L567.98,115.15 L568.69,115.53 L569.39,115.91 L570.09,116.28 L570.78,116.64 L571.47,116.99 L572.15,117.33 L572.82,117.66 L573.49,117.98 L574.15,118.29 L574.81,118.59 L575.45,118.88 L576.09,119.16 L576.72,119.44 L577.34,119.70 L577.96,119.94 L578.56,120.18 L579.16,120.41 L579.75,120.63 L580.32,120.83 L580.89,121.03 L581.45,121.21 L582.00,121.38 L582.53,121.54 L583.06,121.69 L583.57,121.83 L584.08,121.96 L584.57,122.07 L585.05,122.17 L585.52,122.26 L585.98,122.34 L586.42,122.41 L586.85,122.47 L587.27,122.51 L587.68,122.54 L588.07,122.56 L588.45,122.57 L588.82,122.57 L589.17,122.55 L589.51,122.52 L589.84,122.48 L590.15,122.43 L590.45,122.37 L590.73,122.29 L591.00,122.21 L591.26,122.11 L591.50,122.00 L591.72,121.88 L591.93,121.74 L592.13,121.60 L592.31,121.44 L592.47,121.27 L592.62,121.09 L592.76,120.90 L592.88,120.70 L592.98,120.49 L593.07,120.26 L593.15,120.03 L593.21,119.78 L593.25,119.53 L593.28,119.26 L593.29,118.98 L593.28,118.70 L593.27,118.40 L593.23,118.09 L593.18,117.77 L593.12,117.45 L593.04,117.11 L592.94,116.76 L592.83,116.41 L592.70,116.04 L592.56,115.67 L592.40,115.28 L592.23,114.89 L592.04,114.49 L591.84,114.08 L591.62,113.66 L591.39,113.24 L591.15,112.81 L590.88,112.37 L590.61,111.92 L590.32,111.46 L590.02,111.00 L589.70,110.53 L589.37,110.06 L589.02,109.57 L588.66,109.09 L588.29,108.59 L587.90,108.09 L587.50,107.59 L587.09,107.08 L586.67,106.56 L586.23,106.04 L585.78,105.51 L585.32,104.98 L584.84,104.45 L584.36,103.91 L583.86,103.37 L583.35,102.82 L582.83,102.28 L582.30,101.72 L581.76,101.17 L581.21,100.61 L580.64,100.05 L580.07,99.49 L579.49,98.93 L578.90,98.37 L578.30,97.80 L577.69,97.23 L577.07,96.67 L576.45,96.10 L575.81,95.53 L575.17,94.96 L574.52,94.39 L573.86,93.83 L573.20,93.26 L572.53,92.69 L571.85,92.13 L571.17,91.56 L570.48,91.00 L569.78,90.44 L569.08,89.88 L568.38,89.33 L567.67,88.78 L566.96,88.23 L566.96,88.23" fill="none" stroke="#02629A" stroke-width="1.5" stroke-dasharray="6.5 8.26"/>
<path d="M593.16,102.13 L592.68,101.74 L592.17,101.38 L591.64,101.03 L591.08,100.71 L590.51,100.40 L589.92,100.11 L589.32,99.83 L588.69,99.58 L588.04,99.35 L587.37,99.14 L586.69,98.94 L585.99,98.77 L585.27,98.61 L584.53,98.47 L583.78,98.36 L583.01,98.26 L582.22,98.18 L581.42,98.13 L580.60,98.09 L579.77,98.07 L578.92,98.07 L578.06,98.10 L577.18,98.14 L576.29,98.20 L575.38,98.28 L574.47,98.38 L573.54,98.50 L572.59,98.64 L571.64,98.80 L570.67,98.98 L569.70,99.18 L568.71,99.40 L567.71,99.64 L566.71,99.89 L565.69,100.17 L564.67,100.46 L563.64,100.78 L562.60,101.11 L561.55,101.46 L560.49,101.83 L559.43,102.22 L558.37,102.62 L557.29,103.04 L556.22,103.48 L555.13,103.94 L554.05,104.42 L552.96,104.91 L551.86,105.42 L550.77,105.94 L549.67,106.49 L548.57,107.04 L547.47,107.62 L546.37,108.21 L545.27,108.81 L544.17,109.43 L543.07,110.07 L541.97,110.72 L540.87,111.38 L539.77,112.06 L538.68,112.75 L537.59,113.45 L536.50,114.17 L535.42,114.90 L534.34,115.64 L533.27,116.40 L532.20,117.17 L531.14,117.94 L530.09,118.73 L529.04,119.53 L528.00,120.35 L526.96,121.17 L525.94,122.00 L524.92,122.84 L523.92,123.68 L522.92,124.54 L521.93,125.41 L520.96,126.28 L519.99,127.16 L519.04,128.05 L518.09,128.94 L517.16,129.84 L516.24,130.75 L515.34,131.66 L514.45,132.58 L513.57,133.50 L512.71,134.43 L511.86,135.36 L511.02,136.29 L510.20,137.23 L509.40,138.17 L508.61,139.11 L507.84,140.05 L507.09,141.00 L506.35,141.94 L505.63,142.89 L504.92,143.83 L504.24,144.78 L503.57,145.72 L502.93,146.67 L502.30,147.61 L501.69,148.55 L501.09,149.49 L500.52,150.43 L499.97,151.36 L499.44,152.29 L498.93,153.21 L498.44,154.13 L497.97,155.05 L497.52,155.96 L497.09,156.87 L496.69,157.77 L496.30,158.66 L495.94,159.55 L495.60,160.42 L495.28,161.30 L494.98,162.16 L494.71,163.01 L494.46,163.86 L494.23,164.70 L494.02,165.53 L493.84,166.35 L493.67,167.15 L493.54,167.95 L493.42,168.74 L493.33,169.51 L493.26,170.28 L493.21,171.03 L493.19,171.77 L493.19,172.50 L493.21,173.21 L493.25,173.92 L493.32,174.60 L493.41,175.28 L493.53,175.94 L493.67,176.59 L493.83,177.22 L494.01,177.83 L494.22,178.43 L494.44,179.02 L494.70,179.59 L494.97,180.15 L495.26,180.68 L495.58,181.21 L495.92,181.71 L496.28,182.20 L496.67,182.67 L497.07,183.12 L497.50,183.56 L497.95,183.98 L498.41,184.38 L498.90,184.76 L499.41,185.13 L499.94,185.47 L500.49,185.80 L501.06,186.11 L501.65,186.40 L502.26,186.67 L502.89,186.93 L503.54,187.16 L504.21,187.37 L504.89,187.57 L505.59,187.74 L506.31,187.90 L507.05,188.03 L507.80,188.15 L508.57,188.25 L509.36,188.32 L510.16,188.38 L510.98,188.42 L511.81,188.44 L512.66,188.43 L513.52,188.41 L514.40,188.37 L515.29,188.31 L516.20,188.23 L517.11,188.13 L518.04,188.00 L518.99,187.86 L519.94,187.70 L520.91,187.52 L521.88,187.33 L522.87,187.11 L523.86,186.87 L524.87,186.61 L525.89,186.34 L526.91,186.04 L527.94,185.73 L528.98,185.40 L530.03,185.05 L531.09,184.68 L532.15,184.29 L533.21,183.89 L534.29,183.46 L535.36,183.02 L536.45,182.57 L537.53,182.09 L538.62,181.60 L539.72,181.09 L540.81,180.56 L541.91,180.02 L543.01,179.46 L544.11,178.89 L545.21,178.30 L546.31,177.70 L547.41,177.08 L548.51,176.44 L549.61,175.79 L550.71,175.13 L551.81,174.45 L552.90,173.76 L553.99,173.05 L555.08,172.34 L556.16,171.61 L557.24,170.86 L558.31,170.11 L559.38,169.34 L560.44,168.56 L561.49,167.77 L562.54,166.97 L563.58,166.16 L564.62,165.34 L565.64,164.51 L566.66,163.67 L567.66,162.82 L568.66,161.97 L569.65,161.10 L570.62,160.23 L571.59,159.35 L572.54,158.46 L573.49,157.56 L574.42,156.66 L575.34,155.76 L576.24,154.85 L577.13,153.93 L578.01,153.01 L578.87,152.08 L579.72,151.15 L580.56,150.22 L581.38,149.28 L582.18,148.34 L582.97,147.40 L583.74,146.46 L584.49,145.51 L585.23,144.57 L585.95,143.62 L586.65,142.67 L587.34,141.73 L588.01,140.78 L588.65,139.84 L589.28,138.90 L589.89,137.95 L590.48,137.02 L591.06,136.08 L591.61,135.15 L592.14,134.22 L592.65,133.29 L593.14,132.37 L593.61,131.46 L594.06,130.55 L594.49,129.64 L594.89,128.74 L595.28,127.85 L595.64,126.96 L595.98,126.08 L596.30,125.21 L596.60,124.35 L596.87,123.49 L597.12,122.65 L597.35,121.81 L597.56,120.98 L597.74,120.16 L597.91,119.35 L598.04,118.56 L598.16,117.77 L598.25,116.99 L598.32,116.23 L598.37,115.48 L598.39,114.74 L598.39,114.01 L598.37,113.29 L598.33,112.59 L598.26,111.90 L598.17,111.23 L598.05,110.57 L597.91,109.92 L597.75,109.29 L597.57,108.67 L597.36,108.07 L597.14,107.49 L596.88,106.92 L596.61,106.36 L596.32,105.82 L596.00,105.30 L595.66,104.80 L595.30,104.31 L594.91,103.84 L594.51,103.38 L594.08,102.95 L593.63,102.53 L593.16,102.13 L593.16,102.13" fill="none" stroke="#C29D30" stroke-width="1.5" stroke-dasharray="6.5 8.16"/>
<path d="M580.72,133.22 L580.41,132.49 L580.10,131.76 L579.77,131.04 L579.44,130.32 L579.10,129.61 L578.75,128.90 L578.39,128.20 L578.02,127.50 L577.64,126.82 L577.26,126.14 L576.86,125.46 L576.46,124.80 L576.05,124.14 L575.64,123.49 L575.22,122.85 L574.79,122.21 L574.35,121.59 L573.90,120.98 L573.45,120.37 L573.00,119.78 L572.53,119.19 L572.06,118.62 L571.59,118.05 L571.11,117.50 L570.62,116.96 L570.13,116.42 L569.63,115.91 L569.13,115.40 L568.63,114.90 L568.12,114.42 L567.61,113.95 L567.09,113.49 L566.57,113.04 L566.04,112.61 L565.52,112.19 L564.98,111.79 L564.45,111.39 L563.92,111.01 L563.38,110.65 L562.84,110.30 L562.30,109.96 L561.76,109.64 L561.21,109.33 L560.67,109.04 L560.12,108.76 L559.57,108.50 L559.03,108.25 L558.48,108.02 L557.93,107.80 L557.39,107.60 L556.84,107.41 L556.30,107.24 L555.75,107.08 L555.21,106.94 L554.67,106.82 L554.13,106.71 L553.60,106.61 L553.06,106.54 L552.53,106.47 L552.00,106.43 L551.48,106.40 L550.95,106.38 L550.44,106.39 L549.92,106.40 L549.41,106.44 L548.90,106.49 L548.40,106.55 L547.90,106.64 L547.41,106.73 L546.92,106.85 L546.44,106.98 L545.96,107.12 L545.49,107.28 L545.02,107.46 L544.56,107.65 L544.11,107.85 L543.66,108.08 L543.22,108.31 L542.79,108.57 L542.36,108.83 L541.94,109.12 L541.53,109.41 L541.12,109.72 L540.73,110.05 L540.34,110.39 L539.96,110.74 L539.59,111.11 L539.22,111.49 L538.87,111.89 L538.52,112.30 L538.19,112.72 L537.86,113.16 L537.54,113.61 L537.23,114.07 L536.93,114.54 L536.64,115.03 L536.36,115.53 L536.09,116.04 L535.83,116.56 L535.58,117.10 L535.34,117.64 L535.11,118.20 L534.89,118.77 L534.68,119.34 L534.48,119.93 L534.29,120.53 L534.12,121.14 L533.95,121.75 L533.80,122.38 L533.65,123.01 L533.52,123.66 L533.40,124.31 L533.29,124.97 L533.19,125.64 L533.10,126.31 L533.02,127.00 L532.96,127.69 L532.90,128.38 L532.86,129.08 L532.83,129.79 L532.81,130.51 L532.80,131.23 L532.81,131.95 L532.82,132.68 L532.85,133.41 L532.88,134.15 L532.93,134.89 L532.99,135.64 L533.06,136.39 L533.15,137.14 L533.24,137.89 L533.35,138.64 L533.46,139.40 L533.59,140.16 L533.73,140.92 L533.88,141.68 L534.04,142.44 L534.21,143.20 L534.40,143.96 L534.59,144.72 L534.80,145.48 L535.01,146.24 L535.24,147.00 L535.47,147.75 L535.72,148.51 L535.97,149.26 L536.24,150.00 L536.52,150.75 L536.80,151.49 L537.10,152.22 L537.40,152.96 L537.72,153.68 L538.04,154.41 L538.37,155.12 L538.72,155.84 L539.07,156.54 L539.43,157.25 L539.79,157.94 L540.17,158.63 L540.56,159.31 L540.95,159.98 L541.35,160.65 L541.76,161.31 L542.17,161.96 L542.60,162.60 L543.03,163.23 L543.47,163.85 L543.91,164.47 L544.36,165.07 L544.82,165.67 L545.28,166.25 L545.75,166.83 L546.23,167.39 L546.71,167.94 L547.19,168.49 L547.68,169.02 L548.18,169.54 L548.68,170.05 L549.18,170.54 L549.69,171.02 L550.21,171.50 L550.73,171.95 L551.25,172.40 L551.77,172.83 L552.30,173.25 L552.83,173.66 L553.36,174.05 L553.90,174.43 L554.43,174.79 L554.97,175.14 L555.52,175.48 L556.06,175.80 L556.60,176.11 L557.15,176.40 L557.69,176.68 L558.24,176.95 L558.79,177.19 L559.33,177.43 L559.88,177.64 L560.43,177.85 L560.97,178.03 L561.52,178.21 L562.06,178.36 L562.60,178.50 L563.14,178.63 L563.68,178.74 L564.22,178.83 L564.75,178.91 L565.28,178.97 L565.81,179.01 L566.34,179.04 L566.86,179.06 L567.38,179.06 L567.89,179.04 L568.40,179.00 L568.91,178.95 L569.41,178.89 L569.91,178.81 L570.41,178.71 L570.89,178.60 L571.38,178.47 L571.85,178.32 L572.33,178.16 L572.79,177.99 L573.25,177.80 L573.71,177.59 L574.15,177.37 L574.59,177.13 L575.03,176.88 L575.45,176.61 L575.87,176.33 L576.28,176.03 L576.69,175.72 L577.08,175.39 L577.47,175.05 L577.85,174.70 L578.23,174.33 L578.59,173.95 L578.94,173.55 L579.29,173.14 L579.63,172.72 L579.95,172.28 L580.27,171.83 L580.58,171.37 L580.88,170.90 L581.17,170.41 L581.45,169.91 L581.72,169.40 L581.98,168.88 L582.23,168.35 L582.48,167.80 L582.71,167.24 L582.92,166.68 L583.13,166.10 L583.33,165.51 L583.52,164.91 L583.70,164.31 L583.86,163.69 L584.02,163.06 L584.16,162.43 L584.29,161.78 L584.42,161.13 L584.53,160.47 L584.63,159.80 L584.71,159.13 L584.79,158.45 L584.86,157.76 L584.91,157.06 L584.95,156.36 L584.98,155.65 L585.00,154.94 L585.01,154.22 L585.01,153.49 L584.99,152.76 L584.97,152.03 L584.93,151.29 L584.88,150.55 L584.82,149.81 L584.75,149.06 L584.67,148.31 L584.57,147.55 L584.47,146.80 L584.35,146.04 L584.22,145.28 L584.08,144.52 L583.93,143.76 L583.77,143.00 L583.60,142.24 L583.42,141.48 L583.22,140.72 L583.02,139.96 L582.80,139.20 L582.58,138.45 L582.34,137.69 L582.10,136.94 L581.84,136.19 L581.57,135.44 L581.30,134.70 L581.01,133.96 L580.72,133.22 L580.72,133.22" fill="none" stroke="#C62D28" stroke-width="1.5" stroke-dasharray="6.5 8.06"/>
<path d="M596.61,107.27 L596.04,107.06 L595.45,106.85 L594.86,106.65 L594.26,106.46 L593.65,106.27 L593.02,106.08 L592.39,105.90 L591.76,105.73 L591.11,105.56 L590.45,105.39 L589.79,105.24 L589.12,105.08 L588.44,104.94 L587.76,104.79 L587.07,104.66 L586.37,104.53 L585.66,104.40 L584.96,104.29 L584.24,104.17 L583.52,104.07 L582.80,103.97 L582.07,103.88 L581.34,103.79 L580.60,103.71 L579.86,103.63 L579.12,103.56 L578.37,103.50 L577.62,103.45 L576.87,103.40 L576.12,103.35 L575.36,103.32 L574.61,103.29 L573.85,103.26 L573.10,103.24 L572.34,103.23 L571.58,103.23 L570.83,103.23 L570.07,103.24 L569.32,103.25 L568.57,103.28 L567.82,103.30 L567.07,103.34 L566.32,103.38 L565.58,103.43 L564.84,103.48 L564.10,103.54 L563.37,103.61 L562.64,103.68 L561.92,103.76 L561.20,103.84 L560.48,103.93 L559.77,104.03 L559.07,104.13 L558.37,104.24 L557.68,104.36 L557.00,104.48 L556.32,104.61 L555.65,104.74 L554.98,104.88 L554.33,105.03 L553.68,105.18 L553.04,105.33 L552.41,105.50 L551.79,105.66 L551.18,105.84 L550.58,106.01 L549.98,106.20 L549.40,106.39 L548.83,106.58 L548.27,106.78 L547.71,106.98 L547.17,107.19 L546.64,107.40 L546.13,107.62 L545.62,107.84 L545.13,108.07 L544.64,108.30 L544.17,108.54 L543.72,108.78 L543.27,109.02 L542.84,109.27 L542.42,109.52 L542.02,109.77 L541.62,110.03 L541.25,110.29 L540.88,110.56 L540.53,110.83 L540.19,111.10 L539.87,111.37 L539.56,111.65 L539.27,111.93 L538.99,112.21 L538.73,112.50 L538.48,112.79 L538.25,113.08 L538.03,113.37 L537.82,113.67 L537.64,113.96 L537.46,114.26 L537.31,114.56 L537.16,114.86 L537.04,115.16 L536.93,115.47 L536.83,115.77 L536.75,116.08 L536.69,116.39 L536.64,116.69 L536.61,117.00 L536.60,117.31 L536.60,117.62 L536.61,117.93 L536.64,118.24 L536.69,118.55 L536.75,118.86 L536.83,119.16 L536.93,119.47 L537.04,119.78 L537.16,120.09 L537.31,120.39 L537.46,120.70 L537.64,121.00 L537.82,121.30 L538.03,121.60 L538.25,121.90 L538.48,122.20 L538.73,122.49 L538.99,122.79 L539.27,123.08 L539.56,123.37 L539.87,123.65 L540.19,123.94 L540.53,124.22 L540.88,124.50 L541.25,124.77 L541.62,125.05 L542.02,125.32 L542.42,125.58 L542.84,125.85 L543.27,126.11 L543.72,126.36 L544.17,126.61 L544.64,126.86 L545.13,127.11 L545.62,127.35 L546.13,127.59 L546.64,127.82 L547.17,128.05 L547.71,128.27 L548.27,128.49 L548.83,128.70 L549.40,128.91 L549.98,129.12 L550.58,129.32 L551.18,129.52 L551.79,129.71 L552.41,129.89 L553.04,130.07 L553.68,130.25 L554.33,130.42 L554.98,130.58 L555.65,130.74 L556.32,130.89 L557.00,131.04 L557.68,131.18 L558.37,131.31 L559.07,131.44 L559.77,131.57 L560.48,131.69 L561.20,131.80 L561.92,131.90 L562.64,132.00 L563.37,132.10 L564.10,132.18 L564.84,132.27 L565.58,132.34 L566.32,132.41 L567.07,132.47 L567.82,132.53 L568.57,132.58 L569.32,132.62 L570.07,132.66 L570.83,132.69 L571.58,132.71 L572.34,132.73 L573.10,132.74 L573.85,132.74 L574.61,132.74 L575.36,132.73 L576.12,132.72 L576.87,132.70 L577.62,132.67 L578.37,132.63 L579.12,132.59 L579.86,132.55 L580.60,132.49 L581.34,132.43 L582.07,132.37 L582.80,132.29 L583.52,132.22 L584.24,132.13 L584.96,132.04 L585.67,131.94 L586.37,131.84 L587.07,131.73 L587.76,131.61 L588.44,131.49 L589.12,131.36 L589.79,131.23 L590.45,131.09 L591.11,130.95 L591.76,130.80 L592.39,130.64 L593.02,130.48 L593.65,130.31 L594.26,130.14 L594.86,129.96 L595.45,129.78 L596.04,129.59 L596.61,129.39 L597.17,129.20 L597.72,128.99 L598.26,128.78 L598.79,128.57 L599.31,128.35 L599.82,128.13 L600.31,127.90 L600.79,127.67 L601.26,127.44 L601.72,127.20 L602.17,126.95 L602.60,126.71 L603.02,126.46 L603.42,126.20 L603.81,125.94 L604.19,125.68 L604.56,125.41 L604.91,125.15 L605.24,124.87 L605.57,124.60 L605.87,124.32 L606.17,124.04 L606.44,123.76 L606.71,123.47 L606.96,123.18 L607.19,122.89 L607.41,122.60 L607.61,122.31 L607.80,122.01 L607.97,121.71 L608.13,121.41 L608.27,121.11 L608.40,120.81 L608.51,120.50 L608.60,120.20 L608.68,119.89 L608.75,119.59 L608.79,119.28 L608.83,118.97 L608.84,118.66 L608.84,118.35 L608.83,118.04 L608.79,117.73 L608.75,117.43 L608.68,117.12 L608.60,116.81 L608.51,116.50 L608.40,116.19 L608.27,115.89 L608.13,115.58 L607.97,115.28 L607.80,114.97 L607.61,114.67 L607.41,114.37 L607.19,114.07 L606.96,113.78 L606.71,113.48 L606.44,113.19 L606.17,112.90 L605.87,112.61 L605.57,112.32 L605.24,112.04 L604.91,111.76 L604.56,111.48 L604.19,111.20 L603.81,110.93 L603.42,110.66 L603.02,110.39 L602.60,110.13 L602.17,109.87 L601.72,109.61 L601.26,109.36 L600.79,109.11 L600.31,108.87 L599.82,108.62 L599.31,108.39 L598.79,108.15 L598.26,107.93 L597.72,107.70 L597.17,107.48 L596.61,107.27 L596.61,107.27" fill="none" stroke="#0A8150" stroke-width="1.5" stroke-dasharray="6.5 8.02"/>
<rect x="359.6" y="18.5" width="260.9" height="283.7" fill="none" stroke="#7a7a7a" stroke-width="1.1"/>
<line x1="414.6" y1="302.2" x2="414.6" y2="304.8" stroke="#7a7a7a" stroke-width="1.1"/>
<text x="414.6" y="315.7" font-size="10.8" fill="#111" text-anchor="middle">-0.50</text>
<line x1="486.85" y1="302.2" x2="486.85" y2="304.8" stroke="#7a7a7a" stroke-width="1.1"/>
<text x="486.85" y="315.7" font-size="10.8" fill="#111" text-anchor="middle">-0.25</text>
<line x1="559.1" y1="302.2" x2="559.1" y2="304.8" stroke="#7a7a7a" stroke-width="1.1"/>
<text x="559.1" y="315.7" font-size="10.8" fill="#111" text-anchor="middle">0.00</text>
<line x1="357" y1="66.85" x2="359.6" y2="66.85" stroke="#7a7a7a" stroke-width="1.1"/>
<text x="355.2" y="71.35" font-size="10.8" fill="#111" text-anchor="end">0.1</text>
<line x1="357" y1="124.7" x2="359.6" y2="124.7" stroke="#7a7a7a" stroke-width="1.1"/>
<text x="355.2" y="129.2" font-size="10.8" fill="#111" text-anchor="end">0.0</text>
<line x1="357" y1="182.55" x2="359.6" y2="182.55" stroke="#7a7a7a" stroke-width="1.1"/>
<text x="355.2" y="187.05" font-size="10.8" fill="#111" text-anchor="end">-0.1</text>
<line x1="357" y1="240.4" x2="359.6" y2="240.4" stroke="#7a7a7a" stroke-width="1.1"/>
<text x="355.2" y="244.9" font-size="10.8" fill="#111" text-anchor="end">-0.2</text>
<line x1="357" y1="298.25" x2="359.6" y2="298.25" stroke="#7a7a7a" stroke-width="1.1"/>
<text x="355.2" y="302.75" font-size="10.8" fill="#111" text-anchor="end">-0.3</text>
<text x="490.05" y="334.8" font-size="11" fill="#000" text-anchor="middle" xml:space="preserve">Axis.1   [46.6%]</text>
<text x="325" y="160.35" font-size="11" fill="#000" text-anchor="middle" transform="rotate(-90 325 160.35)" xml:space="preserve">Axis.2   [10.3%]</text>
<text x="359.6" y="10.9" font-size="13.2" fill="#000">Endophyte (Spring)</text>
<text x="315.8" y="10.1" font-size="12" font-weight="bold" fill="#000">B</text>
<line x1="122.35" y1="364.6" x2="122.35" y2="648.2" stroke="#F5F5F5" stroke-width="0.6"/>
<line x1="202.25" y1="364.6" x2="202.25" y2="648.2" stroke="#F5F5F5" stroke-width="0.6"/>
<line x1="282.15" y1="364.6" x2="282.15" y2="648.2" stroke="#F5F5F5" stroke-width="0.6"/>
<line x1="44.7" y1="405.6" x2="305.8" y2="405.6" stroke="#F5F5F5" stroke-width="0.6"/>
<line x1="44.7" y1="454.28" x2="305.8" y2="454.28" stroke="#F5F5F5" stroke-width="0.6"/>
<line x1="44.7" y1="502.96" x2="305.8" y2="502.96" stroke="#F5F5F5" stroke-width="0.6"/>
<line x1="44.7" y1="551.64" x2="305.8" y2="551.64" stroke="#F5F5F5" stroke-width="0.6"/>
<line x1="44.7" y1="600.32" x2="305.8" y2="600.32" stroke="#F5F5F5" stroke-width="0.6"/>
<line x1="82.4" y1="364.6" x2="82.4" y2="648.2" stroke="#EBEBEB" stroke-width="1.1"/>
<line x1="162.3" y1="364.6" x2="162.3" y2="648.2" stroke="#EBEBEB" stroke-width="1.1"/>
<line x1="242.2" y1="364.6" x2="242.2" y2="648.2" stroke="#EBEBEB" stroke-width="1.1"/>
<line x1="44.7" y1="381.26" x2="305.8" y2="381.26" stroke="#EBEBEB" stroke-width="1.1"/>
<line x1="44.7" y1="429.94" x2="305.8" y2="429.94" stroke="#EBEBEB" stroke-width="1.1"/>
<line x1="44.7" y1="478.62" x2="305.8" y2="478.62" stroke="#EBEBEB" stroke-width="1.1"/>
<line x1="44.7" y1="527.3" x2="305.8" y2="527.3" stroke="#EBEBEB" stroke-width="1.1"/>
<line x1="44.7" y1="575.98" x2="305.8" y2="575.98" stroke="#EBEBEB" stroke-width="1.1"/>
<line x1="44.7" y1="624.66" x2="305.8" y2="624.66" stroke="#EBEBEB" stroke-width="1.1"/>
<line x1="162.3" y1="364.6" x2="162.3" y2="648.2" stroke="#c4c4c4" stroke-width="0.7" stroke-dasharray="1.6 1.7"/>
<line x1="44.7" y1="527.3" x2="305.8" y2="527.3" stroke="#c4c4c4" stroke-width="0.7" stroke-dasharray="1.6 1.7"/>
<circle cx="105.4" cy="427.8" r="5.15" fill="#C62D28"/>
<circle cx="77.1" cy="493.6" r="5.15" fill="#C62D28"/>
<circle cx="87.6" cy="506" r="5.15" fill="#C62D28"/>
<circle cx="88.7" cy="520.6" r="5.15" fill="#C62D28"/>
<circle cx="72.8" cy="542.5" r="5.15" fill="#C62D28"/>
<circle cx="56.6" cy="547.9" r="5.15" fill="#C62D28"/>
<circle cx="69" cy="565.6" r="5.15" fill="#C62D28"/>
<circle cx="79.6" cy="566.1" r="5.15" fill="#C62D28"/>
<circle cx="80.7" cy="570.8" r="5.15" fill="#C62D28"/>
<circle cx="103.5" cy="586.8" r="5.15" fill="#C62D28"/>
<circle cx="56.9" cy="606.6" r="5.15" fill="#C62D28"/>
<circle cx="71.2" cy="604.8" r="5.15" fill="#C62D28"/>
<circle cx="81" cy="604.3" r="5.15" fill="#C62D28"/>
<circle cx="195.4" cy="484.2" r="5.15" fill="#C62D28"/>
<circle cx="163" cy="419.4" r="5.15" fill="#0A8150"/>
<circle cx="216.2" cy="436.7" r="5.15" fill="#0A8150"/>
<circle cx="192.7" cy="474" r="5.15" fill="#0A8150"/>
<circle cx="227.2" cy="501.5" r="5.15" fill="#0A8150"/>
<circle cx="250.8" cy="496.5" r="5.15" fill="#0A8150"/>
<circle cx="231.6" cy="515.2" r="5.15" fill="#0A8150"/>
<circle cx="177.2" cy="534" r="5.15" fill="#0A8150"/>
<circle cx="155.1" cy="566.2" r="5.15" fill="#0A8150"/>
<circle cx="226.2" cy="578.2" r="5.15" fill="#0A8150"/>
<circle cx="219.2" cy="590.6" r="5.15" fill="#0A8150"/>
<circle cx="232.3" cy="599.2" r="5.15" fill="#0A8150"/>
<circle cx="232.8" cy="603.3" r="5.15" fill="#0A8150"/>
<circle cx="241.4" cy="616.2" r="5.15" fill="#0A8150"/>
<circle cx="241.6" cy="622.6" r="5.15" fill="#0A8150"/>
<circle cx="287.4" cy="619.6" r="5.15" fill="#0A8150"/>
<circle cx="239.1" cy="636" r="5.15" fill="#0A8150"/>
<circle cx="170.4" cy="377.6" r="5.15" fill="#C29D30"/>
<circle cx="143.9" cy="412.4" r="5.15" fill="#C29D30"/>
<circle cx="170.8" cy="424.7" r="5.15" fill="#C29D30"/>
<circle cx="102.1" cy="448.5" r="5.15" fill="#C29D30"/>
<circle cx="118.8" cy="451" r="5.15" fill="#C29D30"/>
<circle cx="141.9" cy="447.4" r="5.15" fill="#C29D30"/>
<circle cx="144.8" cy="499.8" r="5.15" fill="#C29D30"/>
<circle cx="112.6" cy="506" r="5.15" fill="#C29D30"/>
<circle cx="124" cy="514.9" r="5.15" fill="#C29D30"/>
<circle cx="107.2" cy="537.6" r="5.15" fill="#C29D30"/>
<circle cx="71.5" cy="563.8" r="5.15" fill="#C29D30"/>
<circle cx="84.9" cy="568.3" r="5.15" fill="#C29D30"/>
<circle cx="121.3" cy="569.8" r="5.15" fill="#C29D30"/>
<circle cx="119.8" cy="574.6" r="5.15" fill="#C29D30"/>
<circle cx="119" cy="580.6" r="5.15" fill="#C29D30"/>
<circle cx="63.1" cy="594.6" r="5.15" fill="#C29D30"/>
<circle cx="186.5" cy="393.9" r="5.15" fill="#02629A"/>
<circle cx="199.7" cy="404.1" r="5.15" fill="#02629A"/>
<circle cx="245.7" cy="432.7" r="5.15" fill="#02629A"/>
<circle cx="160.5" cy="448.9" r="5.15" fill="#02629A"/>
<circle cx="189.1" cy="459" r="5.15" fill="#02629A"/>
<circle cx="138.4" cy="481.9" r="5.15" fill="#02629A"/>
<circle cx="152.7" cy="496.7" r="5.15" fill="#02629A"/>
<circle cx="261.6" cy="486.1" r="5.15" fill="#02629A"/>
<circle cx="252.2" cy="514.6" r="5.15" fill="#02629A"/>
<circle cx="229.8" cy="546.4" r="5.15" fill="#02629A"/>
<circle cx="192.7" cy="556.2" r="5.15" fill="#02629A"/>
<circle cx="236.8" cy="567.5" r="5.15" fill="#02629A"/>
<circle cx="294.2" cy="566.2" r="5.15" fill="#02629A"/>
<circle cx="230.7" cy="592.4" r="5.15" fill="#02629A"/>
<circle cx="276.1" cy="601.5" r="5.15" fill="#02629A"/>
<path d="M103.95,519.24 L103.72,518.91 L103.49,518.58 L103.24,518.27 L102.99,517.97 L102.73,517.69 L102.47,517.42 L102.19,517.16 L101.91,516.91 L101.62,516.68 L101.33,516.47 L101.03,516.26 L100.72,516.07 L100.40,515.90 L100.08,515.74 L99.76,515.59 L99.42,515.46 L99.08,515.34 L98.74,515.24 L98.39,515.15 L98.03,515.08 L97.67,515.02 L97.30,514.97 L96.93,514.94 L96.55,514.93 L96.17,514.93 L95.78,514.94 L95.39,514.97 L95.00,515.01 L94.60,515.07 L94.20,515.14 L93.79,515.22 L93.38,515.33 L92.97,515.44 L92.55,515.57 L92.14,515.71 L91.71,515.87 L91.29,516.04 L90.86,516.23 L90.43,516.43 L90.00,516.65 L89.57,516.87 L89.14,517.12 L88.70,517.37 L88.26,517.64 L87.82,517.92 L87.39,518.22 L86.95,518.53 L86.51,518.85 L86.07,519.19 L85.63,519.53 L85.18,519.90 L84.74,520.27 L84.31,520.65 L83.87,521.05 L83.43,521.46 L82.99,521.88 L82.56,522.31 L82.12,522.76 L81.69,523.21 L81.26,523.68 L80.83,524.16 L80.40,524.64 L79.98,525.14 L79.56,525.65 L79.14,526.17 L78.72,526.69 L78.31,527.23 L77.90,527.78 L77.49,528.33 L77.09,528.90 L76.69,529.47 L76.30,530.05 L75.91,530.64 L75.52,531.23 L75.14,531.84 L74.76,532.45 L74.39,533.07 L74.03,533.69 L73.66,534.32 L73.31,534.96 L72.96,535.60 L72.61,536.25 L72.27,536.90 L71.94,537.56 L71.61,538.23 L71.29,538.89 L70.98,539.57 L70.67,540.24 L70.37,540.92 L70.07,541.60 L69.78,542.29 L69.50,542.98 L69.23,543.67 L68.96,544.36 L68.71,545.05 L68.45,545.75 L68.21,546.44 L67.97,547.14 L67.75,547.84 L67.53,548.54 L67.31,549.24 L67.11,549.93 L66.91,550.63 L66.73,551.32 L66.55,552.02 L66.38,552.71 L66.22,553.40 L66.06,554.09 L65.92,554.78 L65.78,555.46 L65.65,556.14 L65.54,556.82 L65.43,557.49 L65.33,558.16 L65.23,558.82 L65.15,559.48 L65.08,560.13 L65.02,560.78 L64.96,561.43 L64.91,562.07 L64.88,562.70 L64.85,563.32 L64.83,563.94 L64.82,564.55 L64.82,565.16 L64.83,565.76 L64.85,566.35 L64.88,566.93 L64.92,567.50 L64.96,568.07 L65.02,568.62 L65.08,569.17 L65.15,569.71 L65.24,570.24 L65.33,570.76 L65.43,571.27 L65.54,571.77 L65.66,572.26 L65.79,572.74 L65.92,573.20 L66.07,573.66 L66.22,574.11 L66.38,574.54 L66.55,574.96 L66.73,575.38 L66.92,575.77 L67.12,576.16 L67.32,576.54 L67.53,576.90 L67.75,577.25 L67.98,577.59 L68.22,577.91 L68.46,578.22 L68.71,578.52 L68.97,578.81 L69.24,579.08 L69.51,579.34 L69.79,579.58 L70.08,579.81 L70.38,580.03 L70.68,580.23 L70.99,580.42 L71.30,580.59 L71.62,580.75 L71.95,580.90 L72.28,581.03 L72.62,581.15 L72.97,581.25 L73.32,581.34 L73.68,581.42 L74.04,581.48 L74.40,581.52 L74.78,581.55 L75.15,581.57 L75.53,581.57 L75.92,581.55 L76.31,581.53 L76.71,581.48 L77.10,581.43 L77.51,581.36 L77.91,581.27 L78.32,581.17 L78.73,581.05 L79.15,580.92 L79.57,580.78 L79.99,580.62 L80.42,580.45 L80.84,580.26 L81.27,580.06 L81.70,579.85 L82.13,579.62 L82.57,579.38 L83.00,579.12 L83.44,578.85 L83.88,578.57 L84.32,578.27 L84.76,577.96 L85.20,577.64 L85.64,577.31 L86.08,576.96 L86.52,576.60 L86.96,576.23 L87.40,575.84 L87.84,575.44 L88.28,575.03 L88.71,574.61 L89.15,574.18 L89.58,573.74 L90.02,573.28 L90.45,572.81 L90.88,572.34 L91.30,571.85 L91.73,571.35 L92.15,570.84 L92.57,570.33 L92.98,569.80 L93.40,569.26 L93.81,568.72 L94.21,568.16 L94.61,567.60 L95.01,567.03 L95.41,566.44 L95.80,565.86 L96.18,565.26 L96.56,564.66 L96.94,564.04 L97.31,563.43 L97.68,562.80 L98.04,562.17 L98.40,561.53 L98.75,560.89 L99.09,560.24 L99.43,559.59 L99.77,558.93 L100.09,558.27 L100.41,557.60 L100.73,556.93 L101.04,556.25 L101.34,555.57 L101.63,554.89 L101.92,554.21 L102.20,553.52 L102.47,552.83 L102.74,552.13 L103.00,551.44 L103.25,550.75 L103.49,550.05 L103.73,549.35 L103.96,548.65 L104.18,547.96 L104.39,547.26 L104.59,546.56 L104.79,545.86 L104.98,545.17 L105.16,544.47 L105.33,543.78 L105.49,543.09 L105.64,542.40 L105.79,541.72 L105.92,541.03 L106.05,540.35 L106.17,539.68 L106.28,539.01 L106.38,538.34 L106.47,537.67 L106.55,537.01 L106.63,536.36 L106.69,535.71 L106.74,535.07 L106.79,534.43 L106.83,533.80 L106.85,533.17 L106.87,532.55 L106.88,531.94 L106.88,531.33 L106.87,530.74 L106.85,530.15 L106.83,529.56 L106.79,528.99 L106.74,528.43 L106.69,527.87 L106.62,527.32 L106.55,526.78 L106.47,526.25 L106.38,525.73 L106.27,525.22 L106.17,524.73 L106.05,524.24 L105.92,523.76 L105.78,523.29 L105.64,522.83 L105.48,522.39 L105.32,521.95 L105.15,521.53 L104.97,521.12 L104.78,520.72 L104.59,520.33 L104.38,519.96 L104.17,519.59 L103.95,519.24 L103.95,519.24" fill="none" stroke="#C62D28" stroke-width="1.5" stroke-dasharray="6.5 8.16"/>
<path d="M125.35,467.71 L124.97,468.18 L124.60,468.66 L124.22,469.16 L123.84,469.67 L123.46,470.19 L123.07,470.74 L122.69,471.29 L122.30,471.86 L121.91,472.45 L121.53,473.04 L121.14,473.66 L120.75,474.28 L120.36,474.92 L119.97,475.57 L119.58,476.23 L119.20,476.91 L118.81,477.59 L118.42,478.29 L118.03,479.00 L117.65,479.72 L117.26,480.45 L116.88,481.19 L116.50,481.94 L116.12,482.70 L115.74,483.47 L115.37,484.25 L114.99,485.04 L114.62,485.83 L114.25,486.63 L113.88,487.45 L113.52,488.26 L113.16,489.09 L112.80,489.92 L112.45,490.75 L112.10,491.60 L111.75,492.45 L111.41,493.30 L111.07,494.16 L110.73,495.02 L110.40,495.88 L110.07,496.75 L109.75,497.62 L109.43,498.50 L109.12,499.37 L108.81,500.25 L108.50,501.13 L108.21,502.02 L107.91,502.90 L107.63,503.78 L107.34,504.66 L107.07,505.55 L106.80,506.43 L106.53,507.31 L106.27,508.19 L106.02,509.06 L105.77,509.94 L105.53,510.81 L105.30,511.68 L105.07,512.54 L104.85,513.40 L104.64,514.26 L104.43,515.11 L104.23,515.96 L104.04,516.80 L103.85,517.64 L103.68,518.47 L103.50,519.29 L103.34,520.11 L103.18,520.92 L103.03,521.72 L102.89,522.52 L102.76,523.30 L102.63,524.08 L102.51,524.85 L102.40,525.61 L102.30,526.36 L102.21,527.10 L102.12,527.83 L102.04,528.55 L101.97,529.25 L101.91,529.95 L101.85,530.64 L101.80,531.31 L101.77,531.97 L101.74,532.62 L101.71,533.26 L101.70,533.88 L101.69,534.49 L101.69,535.09 L101.70,535.67 L101.72,536.24 L101.75,536.80 L101.78,537.34 L101.82,537.86 L101.88,538.37 L101.93,538.87 L102.00,539.35 L102.08,539.81 L102.16,540.26 L102.25,540.69 L102.35,541.11 L102.45,541.51 L102.57,541.89 L102.69,542.26 L102.82,542.61 L102.96,542.94 L103.10,543.26 L103.25,543.56 L103.41,543.84 L103.58,544.10 L103.75,544.35 L103.94,544.57 L104.13,544.78 L104.32,544.97 L104.52,545.15 L104.73,545.30 L104.95,545.44 L105.17,545.56 L105.40,545.66 L105.64,545.74 L105.88,545.81 L106.13,545.85 L106.39,545.88 L106.65,545.89 L106.92,545.88 L107.19,545.85 L107.47,545.80 L107.75,545.74 L108.04,545.65 L108.34,545.55 L108.64,545.43 L108.95,545.29 L109.26,545.13 L109.57,544.96 L109.89,544.76 L110.22,544.55 L110.55,544.32 L110.88,544.08 L111.22,543.81 L111.56,543.53 L111.91,543.23 L112.25,542.91 L112.61,542.58 L112.96,542.23 L113.32,541.86 L113.68,541.47 L114.05,541.07 L114.42,540.65 L114.79,540.22 L115.16,539.77 L115.54,539.30 L115.91,538.82 L116.29,538.33 L116.67,537.81 L117.05,537.29 L117.44,536.75 L117.82,536.19 L118.21,535.62 L118.60,535.03 L118.98,534.44 L119.37,533.83 L119.76,533.20 L120.15,532.56 L120.54,531.91 L120.93,531.25 L121.31,530.57 L121.70,529.89 L122.09,529.19 L122.48,528.48 L122.86,527.76 L123.25,527.03 L123.63,526.29 L124.01,525.54 L124.39,524.78 L124.77,524.01 L125.14,523.23 L125.52,522.44 L125.89,521.65 L126.26,520.85 L126.63,520.04 L126.99,519.22 L127.35,518.39 L127.71,517.56 L128.06,516.73 L128.41,515.88 L128.76,515.04 L129.10,514.18 L129.44,513.33 L129.78,512.46 L130.11,511.60 L130.44,510.73 L130.76,509.86 L131.08,508.98 L131.39,508.11 L131.70,507.23 L132.01,506.35 L132.30,505.47 L132.60,504.58 L132.89,503.70 L133.17,502.82 L133.44,501.94 L133.71,501.05 L133.98,500.17 L134.24,499.30 L134.49,498.42 L134.74,497.54 L134.98,496.67 L135.21,495.80 L135.44,494.94 L135.66,494.08 L135.87,493.22 L136.08,492.37 L136.28,491.52 L136.47,490.68 L136.66,489.84 L136.84,489.01 L137.01,488.19 L137.17,487.37 L137.33,486.56 L137.48,485.76 L137.62,484.97 L137.75,484.18 L137.88,483.40 L138.00,482.63 L138.11,481.87 L138.21,481.12 L138.30,480.38 L138.39,479.65 L138.47,478.94 L138.54,478.23 L138.60,477.53 L138.66,476.84 L138.71,476.17 L138.74,475.51 L138.78,474.86 L138.80,474.22 L138.81,473.60 L138.82,472.99 L138.82,472.39 L138.81,471.81 L138.79,471.24 L138.76,470.69 L138.73,470.15 L138.69,469.62 L138.63,469.11 L138.58,468.61 L138.51,468.13 L138.44,467.67 L138.35,467.22 L138.26,466.79 L138.16,466.37 L138.06,465.97 L137.94,465.59 L137.82,465.22 L137.69,464.87 L137.55,464.54 L137.41,464.22 L137.26,463.93 L137.10,463.64 L136.93,463.38 L136.76,463.14 L136.57,462.91 L136.38,462.70 L136.19,462.51 L135.99,462.33 L135.78,462.18 L135.56,462.04 L135.34,461.92 L135.11,461.82 L134.87,461.74 L134.63,461.68 L134.38,461.63 L134.12,461.60 L133.86,461.59 L133.59,461.60 L133.32,461.63 L133.04,461.68 L132.76,461.75 L132.47,461.83 L132.17,461.93 L131.87,462.05 L131.56,462.19 L131.25,462.35 L130.94,462.52 L130.62,462.72 L130.29,462.93 L129.96,463.16 L129.63,463.40 L129.29,463.67 L128.95,463.95 L128.60,464.25 L128.26,464.57 L127.90,464.90 L127.55,465.25 L127.19,465.62 L126.83,466.01 L126.46,466.41 L126.09,466.83 L125.72,467.26 L125.35,467.71 L125.35,467.71" fill="none" stroke="#C29D30" stroke-width="1.5" stroke-dasharray="6.5 7.90"/>
<path d="M231.50,486.39 L231.00,485.67 L230.50,484.95 L229.99,484.24 L229.47,483.54 L228.95,482.86 L228.43,482.18 L227.90,481.52 L227.36,480.86 L226.82,480.22 L226.28,479.59 L225.74,478.97 L225.19,478.36 L224.63,477.77 L224.08,477.19 L223.52,476.62 L222.96,476.07 L222.39,475.53 L221.83,475.00 L221.26,474.49 L220.69,474.00 L220.12,473.51 L219.55,473.05 L218.98,472.59 L218.41,472.16 L217.84,471.73 L217.27,471.33 L216.69,470.94 L216.12,470.56 L215.55,470.20 L214.98,469.86 L214.41,469.54 L213.85,469.23 L213.28,468.94 L212.72,468.66 L212.16,468.40 L211.60,468.16 L211.04,467.94 L210.49,467.73 L209.94,467.54 L209.39,467.37 L208.85,467.21 L208.31,467.08 L207.78,466.96 L207.25,466.86 L206.72,466.77 L206.20,466.71 L205.69,466.66 L205.18,466.63 L204.67,466.62 L204.17,466.62 L203.68,466.65 L203.20,466.69 L202.72,466.75 L202.24,466.82 L201.78,466.92 L201.32,467.03 L200.86,467.16 L200.42,467.31 L199.98,467.48 L199.55,467.66 L199.13,467.86 L198.72,468.08 L198.31,468.31 L197.92,468.56 L197.53,468.83 L197.15,469.12 L196.78,469.42 L196.42,469.74 L196.07,470.08 L195.73,470.43 L195.40,470.80 L195.08,471.18 L194.77,471.58 L194.47,472.00 L194.17,472.43 L193.89,472.88 L193.62,473.34 L193.36,473.82 L193.11,474.31 L192.88,474.82 L192.65,475.34 L192.43,475.87 L192.23,476.42 L192.03,476.98 L191.85,477.56 L191.68,478.15 L191.52,478.75 L191.37,479.36 L191.24,479.99 L191.11,480.63 L191.00,481.28 L190.90,481.94 L190.81,482.61 L190.73,483.29 L190.66,483.99 L190.61,484.69 L190.57,485.41 L190.54,486.13 L190.52,486.86 L190.51,487.60 L190.52,488.36 L190.54,489.11 L190.57,489.88 L190.61,490.66 L190.66,491.44 L190.73,492.23 L190.81,493.02 L190.90,493.83 L191.00,494.63 L191.11,495.45 L191.24,496.27 L191.37,497.09 L191.52,497.92 L191.68,498.75 L191.85,499.59 L192.04,500.43 L192.23,501.27 L192.43,502.11 L192.65,502.96 L192.88,503.81 L193.12,504.66 L193.37,505.51 L193.63,506.37 L193.90,507.22 L194.18,508.07 L194.47,508.93 L194.77,509.78 L195.08,510.63 L195.40,511.48 L195.74,512.33 L196.08,513.18 L196.43,514.02 L196.79,514.86 L197.16,515.70 L197.54,516.53 L197.92,517.36 L198.32,518.19 L198.72,519.01 L199.14,519.82 L199.56,520.63 L199.99,521.44 L200.42,522.24 L200.87,523.03 L201.32,523.81 L201.78,524.59 L202.25,525.36 L202.72,526.12 L203.20,526.88 L203.69,527.62 L204.18,528.36 L204.68,529.08 L205.18,529.80 L205.69,530.51 L206.21,531.21 L206.73,531.90 L207.25,532.57 L207.78,533.24 L208.32,533.89 L208.86,534.53 L209.40,535.16 L209.95,535.78 L210.50,536.39 L211.05,536.98 L211.60,537.56 L212.16,538.13 L212.72,538.68 L213.29,539.22 L213.85,539.75 L214.42,540.26 L214.99,540.76 L215.56,541.24 L216.13,541.71 L216.70,542.16 L217.27,542.60 L217.84,543.02 L218.42,543.42 L218.99,543.82 L219.56,544.19 L220.13,544.55 L220.70,544.89 L221.27,545.22 L221.84,545.52 L222.40,545.82 L222.96,546.09 L223.53,546.35 L224.08,546.59 L224.64,546.82 L225.19,547.02 L225.74,547.21 L226.29,547.38 L226.83,547.54 L227.37,547.67 L227.90,547.79 L228.43,547.90 L228.96,547.98 L229.48,548.04 L229.99,548.09 L230.50,548.12 L231.01,548.13 L231.51,548.13 L232.00,548.11 L232.49,548.06 L232.97,548.00 L233.44,547.93 L233.91,547.83 L234.36,547.72 L234.82,547.59 L235.26,547.44 L235.70,547.28 L236.13,547.09 L236.55,546.89 L236.96,546.68 L237.37,546.44 L237.76,546.19 L238.15,545.92 L238.53,545.63 L238.90,545.33 L239.26,545.01 L239.61,544.67 L239.95,544.32 L240.28,543.95 L240.60,543.57 L240.92,543.17 L241.22,542.75 L241.51,542.32 L241.79,541.87 L242.06,541.41 L242.32,540.93 L242.57,540.44 L242.81,539.94 L243.03,539.41 L243.25,538.88 L243.45,538.33 L243.65,537.77 L243.83,537.19 L244.00,536.61 L244.16,536.00 L244.31,535.39 L244.45,534.76 L244.57,534.13 L244.68,533.48 L244.79,532.81 L244.87,532.14 L244.95,531.46 L245.02,530.77 L245.07,530.06 L245.11,529.35 L245.14,528.62 L245.16,527.89 L245.17,527.15 L245.16,526.40 L245.14,525.64 L245.11,524.87 L245.07,524.10 L245.02,523.31 L244.95,522.52 L244.87,521.73 L244.78,520.93 L244.68,520.12 L244.57,519.31 L244.44,518.49 L244.31,517.66 L244.16,516.83 L244.00,516.00 L243.83,515.17 L243.65,514.33 L243.45,513.48 L243.25,512.64 L243.03,511.79 L242.80,510.94 L242.57,510.09 L242.32,509.24 L242.06,508.38 L241.79,507.53 L241.50,506.68 L241.21,505.82 L240.91,504.97 L240.60,504.12 L240.28,503.27 L239.95,502.42 L239.61,501.58 L239.25,500.73 L238.89,499.89 L238.52,499.05 L238.15,498.22 L237.76,497.39 L237.36,496.56 L236.96,495.74 L236.54,494.93 L236.12,494.12 L235.69,493.31 L235.26,492.52 L234.81,491.72 L234.36,490.94 L233.90,490.16 L233.43,489.39 L232.96,488.63 L232.48,487.88 L231.99,487.13 L231.50,486.39 L231.50,486.39" fill="none" stroke="#02629A" stroke-width="1.5" stroke-dasharray="6.5 8.08"/>
<path d="M236.87,541.60 L236.59,540.73 L236.30,539.86 L236.01,539.00 L235.71,538.14 L235.40,537.28 L235.09,536.43 L234.77,535.59 L234.44,534.75 L234.11,533.92 L233.77,533.10 L233.42,532.29 L233.08,531.48 L232.72,530.68 L232.36,529.89 L232.00,529.11 L231.63,528.33 L231.25,527.57 L230.87,526.82 L230.49,526.08 L230.10,525.34 L229.71,524.62 L229.32,523.91 L228.92,523.22 L228.51,522.53 L228.11,521.85 L227.70,521.19 L227.29,520.54 L226.87,519.91 L226.45,519.28 L226.03,518.68 L225.61,518.08 L225.19,517.50 L224.76,516.93 L224.33,516.38 L223.90,515.84 L223.47,515.32 L223.04,514.81 L222.61,514.32 L222.17,513.85 L221.74,513.39 L221.30,512.94 L220.87,512.51 L220.43,512.10 L220.00,511.71 L219.57,511.33 L219.13,510.97 L218.70,510.63 L218.27,510.30 L217.84,510.00 L217.41,509.71 L216.98,509.43 L216.55,509.18 L216.13,508.94 L215.71,508.72 L215.29,508.52 L214.87,508.34 L214.45,508.18 L214.04,508.03 L213.63,507.90 L213.23,507.80 L212.82,507.71 L212.42,507.64 L212.03,507.58 L211.64,507.55 L211.25,507.53 L210.87,507.54 L210.49,507.56 L210.11,507.60 L209.74,507.66 L209.38,507.74 L209.02,507.84 L208.67,507.95 L208.32,508.09 L207.97,508.24 L207.64,508.41 L207.30,508.60 L206.98,508.81 L206.66,509.04 L206.34,509.28 L206.04,509.54 L205.73,509.82 L205.44,510.12 L205.15,510.44 L204.87,510.77 L204.60,511.12 L204.33,511.49 L204.07,511.87 L203.82,512.27 L203.58,512.69 L203.34,513.12 L203.11,513.57 L202.89,514.04 L202.68,514.52 L202.47,515.02 L202.27,515.53 L202.08,516.06 L201.90,516.60 L201.73,517.16 L201.57,517.74 L201.41,518.32 L201.26,518.92 L201.13,519.54 L201.00,520.17 L200.87,520.81 L200.76,521.46 L200.66,522.13 L200.56,522.81 L200.48,523.50 L200.40,524.20 L200.33,524.92 L200.27,525.64 L200.22,526.38 L200.18,527.13 L200.15,527.88 L200.13,528.65 L200.12,529.43 L200.11,530.21 L200.12,531.01 L200.13,531.81 L200.15,532.62 L200.18,533.44 L200.23,534.26 L200.28,535.09 L200.34,535.93 L200.40,536.78 L200.48,537.63 L200.57,538.49 L200.66,539.35 L200.77,540.22 L200.88,541.09 L201.00,541.96 L201.13,542.84 L201.27,543.72 L201.42,544.61 L201.57,545.50 L201.74,546.39 L201.91,547.28 L202.09,548.17 L202.28,549.06 L202.48,549.96 L202.68,550.85 L202.90,551.75 L203.12,552.64 L203.35,553.53 L203.58,554.42 L203.83,555.31 L204.08,556.20 L204.34,557.08 L204.61,557.96 L204.88,558.84 L205.16,559.71 L205.45,560.58 L205.74,561.45 L206.04,562.31 L206.35,563.16 L206.67,564.01 L206.99,564.85 L207.31,565.69 L207.65,566.52 L207.98,567.34 L208.33,568.16 L208.68,568.97 L209.03,569.76 L209.39,570.55 L209.76,571.34 L210.12,572.11 L210.50,572.87 L210.88,573.62 L211.26,574.37 L211.65,575.10 L212.04,575.82 L212.44,576.53 L212.84,577.23 L213.24,577.91 L213.64,578.59 L214.05,579.25 L214.47,579.90 L214.88,580.54 L215.30,581.16 L215.72,581.77 L216.14,582.36 L216.56,582.94 L216.99,583.51 L217.42,584.06 L217.85,584.60 L218.28,585.12 L218.71,585.63 L219.14,586.12 L219.58,586.60 L220.01,587.06 L220.45,587.50 L220.88,587.93 L221.32,588.34 L221.75,588.73 L222.19,589.11 L222.62,589.47 L223.05,589.81 L223.48,590.14 L223.92,590.45 L224.35,590.74 L224.77,591.01 L225.20,591.26 L225.62,591.50 L226.05,591.72 L226.47,591.92 L226.88,592.10 L227.30,592.27 L227.71,592.41 L228.12,592.54 L228.53,592.65 L228.93,592.74 L229.33,592.81 L229.72,592.86 L230.11,592.89 L230.50,592.91 L230.88,592.90 L231.26,592.88 L231.64,592.84 L232.01,592.78 L232.37,592.70 L232.73,592.60 L233.09,592.49 L233.44,592.35 L233.78,592.20 L234.12,592.03 L234.45,591.84 L234.77,591.63 L235.09,591.41 L235.41,591.16 L235.72,590.90 L236.02,590.62 L236.31,590.32 L236.60,590.01 L236.88,589.68 L237.15,589.33 L237.42,588.96 L237.68,588.57 L237.93,588.17 L238.17,587.76 L238.41,587.32 L238.64,586.87 L238.86,586.40 L239.07,585.92 L239.28,585.42 L239.48,584.91 L239.67,584.38 L239.85,583.84 L240.02,583.28 L240.18,582.71 L240.34,582.12 L240.49,581.52 L240.63,580.90 L240.76,580.28 L240.88,579.63 L240.99,578.98 L241.09,578.31 L241.19,577.63 L241.27,576.94 L241.35,576.24 L241.42,575.53 L241.48,574.80 L241.53,574.06 L241.57,573.32 L241.60,572.56 L241.62,571.79 L241.64,571.02 L241.64,570.23 L241.64,569.44 L241.62,568.64 L241.60,567.82 L241.57,567.01 L241.53,566.18 L241.48,565.35 L241.42,564.51 L241.35,563.66 L241.27,562.81 L241.19,561.96 L241.09,561.09 L240.99,560.23 L240.87,559.35 L240.75,558.48 L240.62,557.60 L240.48,556.72 L240.34,555.83 L240.18,554.95 L240.02,554.06 L239.84,553.17 L239.66,552.27 L239.47,551.38 L239.27,550.49 L239.07,549.59 L238.86,548.70 L238.63,547.80 L238.40,546.91 L238.17,546.02 L237.92,545.13 L237.67,544.25 L237.41,543.36 L237.14,542.48 L236.87,541.60 L236.87,541.60" fill="none" stroke="#0A8150" stroke-width="1.5" stroke-dasharray="6.5 8.16"/>
<rect x="44.7" y="364.6" width="261.1" height="283.6" fill="none" stroke="#7a7a7a" stroke-width="1.1"/>
<line x1="82.4" y1="648.2" x2="82.4" y2="650.8" stroke="#7a7a7a" stroke-width="1.1"/>
<text x="82.4" y="661.7" font-size="10.8" fill="#111" text-anchor="middle">-0.2</text>
<line x1="162.3" y1="648.2" x2="162.3" y2="650.8" stroke="#7a7a7a" stroke-width="1.1"/>
<text x="162.3" y="661.7" font-size="10.8" fill="#111" text-anchor="middle">0.0</text>
<line x1="242.2" y1="648.2" x2="242.2" y2="650.8" stroke="#7a7a7a" stroke-width="1.1"/>
<text x="242.2" y="661.7" font-size="10.8" fill="#111" text-anchor="middle">0.2</text>
<line x1="42.1" y1="381.26" x2="44.7" y2="381.26" stroke="#7a7a7a" stroke-width="1.1"/>
<text x="40.3" y="385.76" font-size="10.8" fill="#111" text-anchor="end">0.3</text>
<line x1="42.1" y1="429.94" x2="44.7" y2="429.94" stroke="#7a7a7a" stroke-width="1.1"/>
<text x="40.3" y="434.44" font-size="10.8" fill="#111" text-anchor="end">0.2</text>
<line x1="42.1" y1="478.62" x2="44.7" y2="478.62" stroke="#7a7a7a" stroke-width="1.1"/>
<text x="40.3" y="483.12" font-size="10.8" fill="#111" text-anchor="end">0.1</text>
<line x1="42.1" y1="527.3" x2="44.7" y2="527.3" stroke="#7a7a7a" stroke-width="1.1"/>
<text x="40.3" y="531.8" font-size="10.8" fill="#111" text-anchor="end">0.0</text>
<line x1="42.1" y1="575.98" x2="44.7" y2="575.98" stroke="#7a7a7a" stroke-width="1.1"/>
<text x="40.3" y="580.48" font-size="10.8" fill="#111" text-anchor="end">-0.1</text>
<line x1="42.1" y1="624.66" x2="44.7" y2="624.66" stroke="#7a7a7a" stroke-width="1.1"/>
<text x="40.3" y="629.16" font-size="10.8" fill="#111" text-anchor="end">-0.2</text>
<text x="175.25" y="680.8" font-size="11" fill="#000" text-anchor="middle" xml:space="preserve">Axis.1   [22.2%]</text>
<text x="10.1" y="506.4" font-size="11" fill="#000" text-anchor="middle" transform="rotate(-90 10.1 506.4)" xml:space="preserve">Axis.2   [14%]</text>
<text x="44.7" y="357" font-size="13.2" fill="#000">Epiphyte (Summer)</text>
<text x="0.9" y="356.2" font-size="12" font-weight="bold" fill="#000">C</text>
<line x1="416.05" y1="364.6" x2="416.05" y2="648.2" stroke="#F5F5F5" stroke-width="0.6"/>
<line x1="495.75" y1="364.6" x2="495.75" y2="648.2" stroke="#F5F5F5" stroke-width="0.6"/>
<line x1="575.45" y1="364.6" x2="575.45" y2="648.2" stroke="#F5F5F5" stroke-width="0.6"/>
<line x1="359.6" y1="420.53" x2="620.5" y2="420.53" stroke="#F5F5F5" stroke-width="0.6"/>
<line x1="359.6" y1="489.27" x2="620.5" y2="489.27" stroke="#F5F5F5" stroke-width="0.6"/>
<line x1="359.6" y1="558.01" x2="620.5" y2="558.01" stroke="#F5F5F5" stroke-width="0.6"/>
<line x1="359.6" y1="626.75" x2="620.5" y2="626.75" stroke="#F5F5F5" stroke-width="0.6"/>
<line x1="376.2" y1="364.6" x2="376.2" y2="648.2" stroke="#EBEBEB" stroke-width="1.1"/>
<line x1="455.9" y1="364.6" x2="455.9" y2="648.2" stroke="#EBEBEB" stroke-width="1.1"/>
<line x1="535.6" y1="364.6" x2="535.6" y2="648.2" stroke="#EBEBEB" stroke-width="1.1"/>
<line x1="615.3" y1="364.6" x2="615.3" y2="648.2" stroke="#EBEBEB" stroke-width="1.1"/>
<line x1="359.6" y1="386.16" x2="620.5" y2="386.16" stroke="#EBEBEB" stroke-width="1.1"/>
<line x1="359.6" y1="454.9" x2="620.5" y2="454.9" stroke="#EBEBEB" stroke-width="1.1"/>
<line x1="359.6" y1="523.64" x2="620.5" y2="523.64" stroke="#EBEBEB" stroke-width="1.1"/>
<line x1="359.6" y1="592.38" x2="620.5" y2="592.38" stroke="#EBEBEB" stroke-width="1.1"/>
<line x1="455.9" y1="364.6" x2="455.9" y2="648.2" stroke="#c4c4c4" stroke-width="0.7" stroke-dasharray="1.6 1.7"/>
<line x1="359.6" y1="454.9" x2="620.5" y2="454.9" stroke="#c4c4c4" stroke-width="0.7" stroke-dasharray="1.6 1.7"/>
<circle cx="377" cy="433" r="5.15" fill="#C62D28"/>
<circle cx="375.5" cy="443.5" r="5.15" fill="#C62D28"/>
<circle cx="381.3" cy="452.6" r="5.15" fill="#C62D28"/>
<circle cx="387.7" cy="452.3" r="5.15" fill="#C62D28"/>
<circle cx="390.1" cy="458.8" r="5.15" fill="#C62D28"/>
<circle cx="371.2" cy="458.4" r="5.15" fill="#C62D28"/>
<circle cx="372.9" cy="464.4" r="5.15" fill="#C62D28"/>
<circle cx="374.9" cy="469.2" r="5.15" fill="#C62D28"/>
<circle cx="381.7" cy="474.5" r="5.15" fill="#C62D28"/>
<circle cx="425.3" cy="481.9" r="5.15" fill="#C62D28"/>
<circle cx="450.1" cy="487.3" r="5.15" fill="#C62D28"/>
<circle cx="409.6" cy="491.9" r="5.15" fill="#C62D28"/>
<circle cx="428" cy="545.7" r="5.15" fill="#C62D28"/>
<circle cx="408.9" cy="413" r="5.15" fill="#C29D30"/>
<circle cx="408.3" cy="433.1" r="5.15" fill="#C29D30"/>
<circle cx="441" cy="448.4" r="5.15" fill="#C29D30"/>
<circle cx="483.1" cy="433.2" r="5.15" fill="#C29D30"/>
<circle cx="472" cy="466.6" r="5.15" fill="#C29D30"/>
<circle cx="498.2" cy="406.5" r="5.15" fill="#C29D30"/>
<circle cx="513.8" cy="418.6" r="5.15" fill="#C29D30"/>
<circle cx="541.6" cy="444.7" r="5.15" fill="#C29D30"/>
<circle cx="585.6" cy="445.7" r="5.15" fill="#C29D30"/>
<circle cx="607.5" cy="420.6" r="5.15" fill="#C29D30"/>
<circle cx="531.1" cy="485.8" r="5.15" fill="#C29D30"/>
<circle cx="413.4" cy="497.5" r="5.15" fill="#C29D30"/>
<circle cx="435.3" cy="497.2" r="5.15" fill="#C29D30"/>
<circle cx="497.8" cy="633.8" r="5.15" fill="#C29D30"/>
<circle cx="506.5" cy="636" r="5.15" fill="#C29D30"/>
<circle cx="411.8" cy="404.4" r="5.15" fill="#0A8150"/>
<circle cx="426.4" cy="407.6" r="5.15" fill="#0A8150"/>
<circle cx="399.5" cy="416" r="5.15" fill="#0A8150"/>
<circle cx="424" cy="421.4" r="5.15" fill="#0A8150"/>
<circle cx="380.7" cy="458.6" r="5.15" fill="#0A8150"/>
<circle cx="499.1" cy="380.3" r="5.15" fill="#0A8150"/>
<circle cx="546.6" cy="389.1" r="5.15" fill="#0A8150"/>
<circle cx="554.6" cy="427.9" r="5.15" fill="#0A8150"/>
<circle cx="559.8" cy="442.7" r="5.15" fill="#0A8150"/>
<circle cx="569" cy="457.4" r="5.15" fill="#0A8150"/>
<circle cx="600.6" cy="412.3" r="5.15" fill="#0A8150"/>
<circle cx="608.8" cy="493.5" r="5.15" fill="#0A8150"/>
<circle cx="510.5" cy="558.2" r="5.15" fill="#0A8150"/>
<circle cx="503.8" cy="572.2" r="5.15" fill="#0A8150"/>
<circle cx="438.5" cy="397" r="5.15" fill="#02629A"/>
<circle cx="439.5" cy="402" r="5.15" fill="#02629A"/>
<circle cx="450.5" cy="409.6" r="5.15" fill="#02629A"/>
<circle cx="404" cy="409.8" r="5.15" fill="#02629A"/>
<circle cx="416.7" cy="413.7" r="5.15" fill="#02629A"/>
<circle cx="422.6" cy="432.7" r="5.15" fill="#02629A"/>
<circle cx="412" cy="441.4" r="5.15" fill="#02629A"/>
<circle cx="373.7" cy="443.9" r="5.15" fill="#02629A"/>
<circle cx="388" cy="443.6" r="5.15" fill="#02629A"/>
<circle cx="449.1" cy="456.5" r="5.15" fill="#02629A"/>
<circle cx="530" cy="377.4" r="5.15" fill="#02629A"/>
<circle cx="530.6" cy="387.9" r="5.15" fill="#02629A"/>
<circle cx="544.1" cy="404" r="5.15" fill="#02629A"/>
<circle cx="555.6" cy="455.4" r="5.15" fill="#02629A"/>
<circle cx="430.3" cy="512.4" r="5.15" fill="#02629A"/>
<circle cx="464.9" cy="579.6" r="5.15" fill="#02629A"/>
<path d="M393.74,458.30 L393.44,457.99 L393.14,457.69 L392.84,457.40 L392.53,457.11 L392.23,456.82 L391.92,456.54 L391.61,456.26 L391.31,455.99 L391.00,455.73 L390.69,455.46 L390.39,455.21 L390.08,454.96 L389.77,454.71 L389.47,454.47 L389.16,454.24 L388.85,454.01 L388.55,453.79 L388.25,453.58 L387.94,453.37 L387.64,453.16 L387.34,452.97 L387.05,452.77 L386.75,452.59 L386.45,452.41 L386.16,452.24 L385.87,452.08 L385.58,451.92 L385.29,451.77 L385.01,451.63 L384.73,451.49 L384.45,451.36 L384.17,451.24 L383.90,451.12 L383.63,451.02 L383.36,450.92 L383.09,450.82 L382.83,450.74 L382.58,450.66 L382.32,450.59 L382.07,450.52 L381.82,450.47 L381.58,450.42 L381.34,450.38 L381.11,450.34 L380.88,450.32 L380.65,450.30 L380.43,450.29 L380.21,450.28 L380.00,450.29 L379.79,450.30 L379.59,450.32 L379.39,450.35 L379.20,450.38 L379.01,450.42 L378.83,450.47 L378.65,450.53 L378.47,450.59 L378.31,450.67 L378.15,450.75 L377.99,450.83 L377.84,450.93 L377.69,451.03 L377.55,451.14 L377.42,451.25 L377.29,451.38 L377.17,451.51 L377.05,451.64 L376.94,451.79 L376.84,451.94 L376.74,452.10 L376.65,452.26 L376.56,452.43 L376.48,452.61 L376.41,452.80 L376.34,452.99 L376.28,453.18 L376.23,453.39 L376.18,453.60 L376.14,453.81 L376.10,454.04 L376.07,454.27 L376.05,454.50 L376.03,454.74 L376.02,454.98 L376.02,455.24 L376.02,455.49 L376.03,455.75 L376.05,456.02 L376.07,456.29 L376.10,456.57 L376.14,456.85 L376.18,457.14 L376.23,457.43 L376.28,457.72 L376.34,458.02 L376.41,458.33 L376.48,458.64 L376.56,458.95 L376.65,459.26 L376.74,459.58 L376.83,459.91 L376.94,460.23 L377.05,460.56 L377.16,460.90 L377.29,461.23 L377.41,461.57 L377.55,461.91 L377.69,462.25 L377.83,462.60 L377.98,462.95 L378.14,463.30 L378.30,463.65 L378.47,464.00 L378.64,464.36 L378.82,464.71 L379.00,465.07 L379.19,465.43 L379.38,465.79 L379.58,466.15 L379.78,466.51 L379.99,466.87 L380.20,467.24 L380.42,467.60 L380.64,467.96 L380.87,468.32 L381.10,468.68 L381.33,469.05 L381.57,469.41 L381.82,469.77 L382.06,470.13 L382.31,470.48 L382.57,470.84 L382.82,471.19 L383.08,471.55 L383.35,471.90 L383.62,472.25 L383.89,472.60 L384.16,472.94 L384.44,473.29 L384.72,473.63 L385.00,473.96 L385.28,474.30 L385.57,474.63 L385.86,474.96 L386.15,475.29 L386.44,475.61 L386.74,475.93 L387.03,476.24 L387.33,476.56 L387.63,476.86 L387.93,477.17 L388.24,477.47 L388.54,477.76 L388.84,478.05 L389.15,478.34 L389.45,478.62 L389.76,478.90 L390.07,479.17 L390.37,479.43 L390.68,479.69 L390.99,479.95 L391.30,480.20 L391.60,480.45 L391.91,480.68 L392.21,480.92 L392.52,481.15 L392.82,481.37 L393.13,481.58 L393.43,481.79 L393.73,482.00 L394.03,482.19 L394.33,482.38 L394.63,482.57 L394.92,482.75 L395.21,482.92 L395.50,483.08 L395.79,483.24 L396.08,483.39 L396.36,483.53 L396.65,483.67 L396.93,483.80 L397.20,483.92 L397.48,484.03 L397.75,484.14 L398.01,484.24 L398.28,484.34 L398.54,484.42 L398.80,484.50 L399.05,484.57 L399.30,484.64 L399.55,484.69 L399.79,484.74 L400.03,484.78 L400.27,484.82 L400.50,484.84 L400.72,484.86 L400.94,484.87 L401.16,484.88 L401.37,484.87 L401.58,484.86 L401.79,484.84 L401.98,484.81 L402.18,484.78 L402.37,484.74 L402.55,484.69 L402.73,484.63 L402.90,484.56 L403.07,484.49 L403.23,484.41 L403.39,484.33 L403.54,484.23 L403.68,484.13 L403.82,484.02 L403.95,483.91 L404.08,483.78 L404.20,483.65 L404.32,483.52 L404.43,483.37 L404.54,483.22 L404.63,483.06 L404.73,482.90 L404.81,482.73 L404.89,482.55 L404.96,482.36 L405.03,482.17 L405.09,481.97 L405.15,481.77 L405.19,481.56 L405.24,481.34 L405.27,481.12 L405.30,480.89 L405.32,480.66 L405.34,480.42 L405.35,480.17 L405.35,479.92 L405.35,479.67 L405.34,479.40 L405.32,479.14 L405.30,478.87 L405.27,478.59 L405.24,478.31 L405.20,478.02 L405.15,477.73 L405.09,477.43 L405.03,477.13 L404.97,476.83 L404.89,476.52 L404.81,476.21 L404.73,475.89 L404.64,475.57 L404.54,475.25 L404.44,474.93 L404.33,474.60 L404.21,474.26 L404.09,473.93 L403.96,473.59 L403.83,473.25 L403.69,472.91 L403.54,472.56 L403.39,472.21 L403.23,471.86 L403.07,471.51 L402.91,471.16 L402.73,470.80 L402.56,470.44 L402.37,470.09 L402.18,469.73 L401.99,469.37 L401.79,469.01 L401.59,468.65 L401.38,468.28 L401.17,467.92 L400.95,467.56 L400.73,467.20 L400.50,466.84 L400.27,466.47 L400.04,466.11 L399.80,465.75 L399.56,465.39 L399.31,465.03 L399.06,464.68 L398.81,464.32 L398.55,463.96 L398.29,463.61 L398.03,463.26 L397.76,462.91 L397.49,462.56 L397.21,462.22 L396.94,461.87 L396.66,461.53 L396.38,461.19 L396.09,460.86 L395.80,460.53 L395.52,460.20 L395.22,459.87 L394.93,459.55 L394.64,459.23 L394.34,458.91 L394.04,458.60 L393.74,458.30 L393.74,458.30" fill="none" stroke="#C62D28" stroke-width="1.5" stroke-dasharray="6.5 8.14"/>
<path d="M479.45,411.68 L478.97,411.27 L478.48,410.87 L477.98,410.48 L477.46,410.10 L476.94,409.74 L476.40,409.38 L475.86,409.04 L475.30,408.70 L474.74,408.38 L474.17,408.07 L473.58,407.78 L472.99,407.49 L472.39,407.22 L471.78,406.96 L471.16,406.71 L470.54,406.48 L469.90,406.26 L469.26,406.05 L468.61,405.85 L467.96,405.67 L467.30,405.50 L466.63,405.34 L465.96,405.19 L465.28,405.06 L464.59,404.95 L463.90,404.84 L463.21,404.75 L462.51,404.67 L461.80,404.61 L461.10,404.56 L460.39,404.52 L459.67,404.50 L458.95,404.49 L458.24,404.49 L457.51,404.51 L456.79,404.54 L456.06,404.59 L455.34,404.65 L454.61,404.72 L453.88,404.80 L453.15,404.90 L452.42,405.01 L451.69,405.14 L450.96,405.28 L450.24,405.43 L449.51,405.59 L448.79,405.77 L448.06,405.96 L447.34,406.17 L446.62,406.38 L445.91,406.61 L445.20,406.86 L444.49,407.11 L443.78,407.38 L443.08,407.66 L442.38,407.95 L441.69,408.25 L441.00,408.57 L440.32,408.90 L439.64,409.24 L438.97,409.59 L438.31,409.95 L437.65,410.32 L437.00,410.71 L436.36,411.10 L435.72,411.51 L435.09,411.92 L434.47,412.35 L433.85,412.79 L433.25,413.23 L432.65,413.69 L432.06,414.16 L431.49,414.63 L430.92,415.12 L430.36,415.61 L429.81,416.11 L429.27,416.62 L428.74,417.14 L428.22,417.67 L427.72,418.20 L427.22,418.74 L426.73,419.29 L426.26,419.85 L425.80,420.41 L425.35,420.98 L424.91,421.56 L424.49,422.14 L424.07,422.73 L423.67,423.32 L423.29,423.92 L422.91,424.53 L422.55,425.14 L422.20,425.75 L421.87,426.37 L421.55,426.99 L421.24,427.61 L420.95,428.24 L420.67,428.88 L420.40,429.51 L420.15,430.15 L419.92,430.79 L419.70,431.43 L419.49,432.07 L419.30,432.72 L419.12,433.37 L418.96,434.01 L418.81,434.66 L418.68,435.31 L418.56,435.96 L418.46,436.60 L418.37,437.25 L418.30,437.90 L418.24,438.54 L418.20,439.19 L418.17,439.83 L418.16,440.47 L418.16,441.11 L418.18,441.75 L418.22,442.38 L418.27,443.01 L418.33,443.64 L418.41,444.26 L418.51,444.88 L418.62,445.50 L418.74,446.11 L418.89,446.71 L419.04,447.31 L419.21,447.91 L419.40,448.50 L419.60,449.09 L419.81,449.66 L420.04,450.24 L420.28,450.80 L420.54,451.36 L420.81,451.91 L421.10,452.46 L421.40,453.00 L421.71,453.53 L422.04,454.05 L422.38,454.56 L422.74,455.07 L423.11,455.57 L423.49,456.05 L423.88,456.53 L424.29,457.00 L424.71,457.46 L425.14,457.91 L425.58,458.36 L426.04,458.79 L426.51,459.21 L426.99,459.62 L427.48,460.02 L427.98,460.41 L428.49,460.78 L429.02,461.15 L429.55,461.51 L430.10,461.85 L430.65,462.18 L431.22,462.50 L431.79,462.81 L432.37,463.11 L432.97,463.39 L433.57,463.66 L434.18,463.92 L434.79,464.17 L435.42,464.41 L436.05,464.63 L436.69,464.84 L437.34,465.04 L438.00,465.22 L438.66,465.39 L439.33,465.55 L440.00,465.69 L440.68,465.82 L441.36,465.94 L442.05,466.04 L442.75,466.13 L443.45,466.21 L444.15,466.28 L444.86,466.33 L445.57,466.36 L446.28,466.39 L447.00,466.40 L447.72,466.39 L448.44,466.37 L449.17,466.34 L449.89,466.30 L450.62,466.24 L451.35,466.17 L452.08,466.08 L452.81,465.98 L453.53,465.87 L454.26,465.75 L454.99,465.61 L455.72,465.46 L456.45,465.29 L457.17,465.11 L457.89,464.92 L458.61,464.72 L459.33,464.50 L460.05,464.27 L460.76,464.03 L461.47,463.77 L462.17,463.51 L462.88,463.23 L463.57,462.94 L464.27,462.63 L464.95,462.32 L465.63,461.99 L466.31,461.65 L466.98,461.30 L467.65,460.94 L468.30,460.56 L468.96,460.18 L469.60,459.78 L470.24,459.38 L470.87,458.96 L471.49,458.54 L472.10,458.10 L472.71,457.65 L473.30,457.20 L473.89,456.73 L474.47,456.25 L475.04,455.77 L475.60,455.28 L476.15,454.77 L476.69,454.26 L477.22,453.75 L477.73,453.22 L478.24,452.68 L478.74,452.14 L479.22,451.59 L479.70,451.04 L480.16,450.47 L480.61,449.90 L481.04,449.33 L481.47,448.74 L481.88,448.16 L482.28,447.56 L482.67,446.96 L483.04,446.36 L483.41,445.75 L483.75,445.14 L484.09,444.52 L484.41,443.90 L484.72,443.27 L485.01,442.64 L485.29,442.01 L485.55,441.37 L485.80,440.74 L486.04,440.10 L486.26,439.46 L486.47,438.81 L486.66,438.17 L486.84,437.52 L487.00,436.87 L487.15,436.23 L487.28,435.58 L487.40,434.93 L487.50,434.28 L487.59,433.63 L487.66,432.99 L487.72,432.34 L487.76,431.70 L487.78,431.05 L487.80,430.41 L487.79,429.77 L487.77,429.14 L487.74,428.51 L487.69,427.88 L487.62,427.25 L487.54,426.63 L487.45,426.01 L487.34,425.39 L487.21,424.78 L487.07,424.17 L486.92,423.57 L486.74,422.98 L486.56,422.39 L486.36,421.80 L486.14,421.22 L485.92,420.65 L485.67,420.08 L485.41,419.52 L485.14,418.97 L484.86,418.43 L484.56,417.89 L484.24,417.36 L483.91,416.84 L483.57,416.32 L483.22,415.82 L482.85,415.32 L482.47,414.83 L482.07,414.35 L481.67,413.88 L481.25,413.42 L480.82,412.97 L480.37,412.53 L479.92,412.10 L479.45,411.68 L479.45,411.68" fill="none" stroke="#02629A" stroke-width="1.5" stroke-dasharray="6.5 8.14"/>
<path d="M524.20,420.57 L523.39,419.99 L522.56,419.41 L521.72,418.85 L520.86,418.30 L520.00,417.76 L519.12,417.23 L518.23,416.71 L517.33,416.20 L516.42,415.71 L515.50,415.22 L514.57,414.75 L513.63,414.29 L512.69,413.85 L511.73,413.42 L510.77,413.00 L509.80,412.59 L508.82,412.20 L507.83,411.82 L506.84,411.46 L505.84,411.11 L504.84,410.77 L503.83,410.45 L502.82,410.14 L501.80,409.85 L500.78,409.57 L499.76,409.31 L498.74,409.06 L497.71,408.83 L496.68,408.61 L495.65,408.41 L494.61,408.23 L493.58,408.05 L492.55,407.90 L491.52,407.76 L490.49,407.64 L489.46,407.53 L488.43,407.43 L487.40,407.36 L486.38,407.30 L485.36,407.25 L484.34,407.22 L483.33,407.21 L482.32,407.21 L481.32,407.23 L480.32,407.26 L479.33,407.31 L478.35,407.38 L477.37,407.46 L476.39,407.56 L475.43,407.67 L474.47,407.80 L473.53,407.95 L472.59,408.11 L471.66,408.29 L470.74,408.48 L469.83,408.69 L468.93,408.91 L468.04,409.15 L467.16,409.40 L466.29,409.67 L465.44,409.95 L464.60,410.25 L463.77,410.56 L462.95,410.88 L462.15,411.22 L461.36,411.58 L460.59,411.95 L459.83,412.33 L459.08,412.73 L458.35,413.14 L457.63,413.56 L456.93,414.00 L456.25,414.44 L455.58,414.91 L454.93,415.38 L454.30,415.87 L453.69,416.37 L453.09,416.88 L452.51,417.40 L451.94,417.94 L451.40,418.48 L450.87,419.04 L450.37,419.60 L449.88,420.18 L449.41,420.77 L448.96,421.37 L448.53,421.97 L448.12,422.59 L447.73,423.22 L447.36,423.85 L447.01,424.50 L446.68,425.15 L446.37,425.81 L446.08,426.48 L445.81,427.15 L445.56,427.83 L445.34,428.52 L445.13,429.22 L444.95,429.92 L444.79,430.63 L444.65,431.34 L444.53,432.06 L444.43,432.79 L444.36,433.52 L444.30,434.25 L444.27,434.99 L444.26,435.73 L444.27,436.47 L444.30,437.22 L444.35,437.97 L444.43,438.72 L444.52,439.48 L444.64,440.24 L444.78,440.99 L444.94,441.75 L445.13,442.51 L445.33,443.27 L445.55,444.03 L445.80,444.80 L446.07,445.56 L446.35,446.31 L446.66,447.07 L446.99,447.83 L447.34,448.58 L447.71,449.33 L448.10,450.08 L448.51,450.83 L448.94,451.57 L449.39,452.31 L449.86,453.05 L450.34,453.78 L450.85,454.51 L451.38,455.23 L451.92,455.95 L452.48,456.66 L453.06,457.37 L453.66,458.07 L454.28,458.76 L454.91,459.45 L455.56,460.13 L456.22,460.80 L456.91,461.47 L457.60,462.13 L458.32,462.77 L459.05,463.42 L459.79,464.05 L460.55,464.67 L461.33,465.28 L462.12,465.89 L462.92,466.48 L463.73,467.07 L464.56,467.64 L465.40,468.21 L466.26,468.76 L467.12,469.30 L468.00,469.83 L468.89,470.35 L469.79,470.86 L470.70,471.35 L471.62,471.83 L472.55,472.30 L473.49,472.76 L474.43,473.21 L475.39,473.64 L476.35,474.06 L477.33,474.46 L478.30,474.85 L479.29,475.23 L480.28,475.60 L481.28,475.95 L482.28,476.28 L483.29,476.60 L484.30,476.91 L485.32,477.20 L486.34,477.48 L487.36,477.74 L488.39,477.99 L489.41,478.22 L490.44,478.44 L491.47,478.64 L492.51,478.83 L493.54,479.00 L494.57,479.16 L495.60,479.30 L496.64,479.42 L497.66,479.53 L498.69,479.62 L499.72,479.70 L500.74,479.76 L501.76,479.81 L502.78,479.83 L503.79,479.85 L504.80,479.84 L505.80,479.83 L506.80,479.79 L507.79,479.74 L508.78,479.68 L509.75,479.59 L510.73,479.50 L511.69,479.38 L512.65,479.25 L513.59,479.11 L514.53,478.95 L515.46,478.77 L516.38,478.58 L517.29,478.37 L518.19,478.15 L519.08,477.91 L519.96,477.66 L520.83,477.39 L521.68,477.11 L522.52,476.81 L523.35,476.50 L524.17,476.17 L524.97,475.83 L525.76,475.48 L526.54,475.11 L527.30,474.73 L528.04,474.33 L528.77,473.92 L529.49,473.50 L530.19,473.06 L530.87,472.61 L531.54,472.15 L532.19,471.67 L532.82,471.19 L533.44,470.69 L534.03,470.18 L534.62,469.65 L535.18,469.12 L535.72,468.58 L536.25,468.02 L536.76,467.45 L537.24,466.87 L537.71,466.29 L538.16,465.69 L538.59,465.08 L539.00,464.46 L539.39,463.84 L539.77,463.20 L540.12,462.56 L540.45,461.91 L540.75,461.25 L541.04,460.58 L541.31,459.90 L541.56,459.22 L541.78,458.53 L541.99,457.84 L542.17,457.13 L542.33,456.43 L542.47,455.71 L542.59,454.99 L542.69,454.27 L542.77,453.54 L542.82,452.81 L542.85,452.07 L542.86,451.33 L542.85,450.58 L542.82,449.84 L542.77,449.08 L542.69,448.33 L542.60,447.58 L542.48,446.82 L542.34,446.06 L542.18,445.30 L542.00,444.54 L541.79,443.78 L541.57,443.02 L541.32,442.26 L541.05,441.50 L540.77,440.74 L540.46,439.98 L540.13,439.23 L539.78,438.47 L539.41,437.72 L539.02,436.97 L538.61,436.23 L538.18,435.48 L537.73,434.74 L537.26,434.01 L536.78,433.27 L536.27,432.55 L535.74,431.82 L535.20,431.11 L534.64,430.39 L534.06,429.69 L533.46,428.99 L532.85,428.29 L532.21,427.61 L531.56,426.93 L530.90,426.25 L530.22,425.59 L529.52,424.93 L528.80,424.28 L528.07,423.64 L527.33,423.01 L526.57,422.39 L525.79,421.77 L525.00,421.17 L524.20,420.57 L524.20,420.57" fill="none" stroke="#0A8150" stroke-width="1.5" stroke-dasharray="6.5 8.12"/>
<path d="M524.47,451.27 L524.10,450.43 L523.72,449.60 L523.32,448.78 L522.91,447.96 L522.48,447.16 L522.04,446.37 L521.58,445.59 L521.11,444.82 L520.63,444.06 L520.13,443.32 L519.62,442.59 L519.10,441.87 L518.56,441.16 L518.01,440.47 L517.45,439.79 L516.87,439.13 L516.29,438.48 L515.69,437.84 L515.08,437.22 L514.46,436.62 L513.82,436.03 L513.18,435.45 L512.53,434.90 L511.86,434.36 L511.19,433.83 L510.51,433.32 L509.82,432.83 L509.12,432.36 L508.41,431.90 L507.69,431.46 L506.96,431.04 L506.23,430.64 L505.49,430.25 L504.74,429.88 L503.99,429.54 L503.23,429.21 L502.46,428.90 L501.69,428.60 L500.91,428.33 L500.13,428.08 L499.34,427.84 L498.55,427.63 L497.75,427.43 L496.95,427.25 L496.15,427.10 L495.34,426.96 L494.53,426.84 L493.72,426.75 L492.91,426.67 L492.10,426.61 L491.28,426.57 L490.47,426.56 L489.65,426.56 L488.83,426.58 L488.02,426.62 L487.20,426.68 L486.39,426.77 L485.58,426.87 L484.76,426.99 L483.95,427.13 L483.15,427.29 L482.34,427.47 L481.54,427.67 L480.74,427.89 L479.95,428.13 L479.16,428.39 L478.38,428.66 L477.60,428.96 L476.82,429.27 L476.05,429.61 L475.29,429.96 L474.53,430.33 L473.78,430.72 L473.04,431.13 L472.30,431.55 L471.57,432.00 L470.85,432.46 L470.14,432.93 L469.43,433.43 L468.74,433.94 L468.05,434.47 L467.37,435.01 L466.71,435.57 L466.05,436.15 L465.40,436.74 L464.76,437.35 L464.14,437.98 L463.52,438.61 L462.92,439.27 L462.33,439.93 L461.75,440.62 L461.18,441.31 L460.63,442.02 L460.08,442.74 L459.55,443.48 L459.04,444.22 L458.53,444.98 L458.04,445.75 L457.57,446.54 L457.11,447.33 L456.66,448.13 L456.22,448.95 L455.81,449.77 L455.40,450.61 L455.01,451.45 L454.64,452.31 L454.28,453.17 L453.94,454.04 L453.61,454.92 L453.30,455.80 L453.00,456.70 L452.72,457.60 L452.46,458.50 L452.21,459.41 L451.98,460.33 L451.76,461.25 L451.57,462.18 L451.38,463.11 L451.22,464.05 L451.07,464.98 L450.94,465.93 L450.83,466.87 L450.73,467.82 L450.65,468.77 L450.58,469.72 L450.54,470.67 L450.51,471.62 L450.50,472.57 L450.50,473.52 L450.52,474.47 L450.56,475.42 L450.62,476.37 L450.69,477.32 L450.78,478.26 L450.89,479.20 L451.01,480.14 L451.15,481.07 L451.31,482.00 L451.49,482.93 L451.68,483.85 L451.88,484.77 L452.11,485.68 L452.35,486.58 L452.61,487.48 L452.88,488.37 L453.17,489.25 L453.47,490.13 L453.79,491.00 L454.13,491.86 L454.48,492.71 L454.85,493.55 L455.23,494.39 L455.63,495.21 L456.04,496.02 L456.47,496.82 L456.91,497.62 L457.37,498.40 L457.84,499.17 L458.32,499.92 L458.82,500.67 L459.33,501.40 L459.85,502.12 L460.39,502.82 L460.94,503.52 L461.50,504.19 L462.08,504.86 L462.66,505.51 L463.26,506.14 L463.87,506.76 L464.49,507.37 L465.12,507.96 L465.77,508.53 L466.42,509.09 L467.08,509.63 L467.76,510.16 L468.44,510.66 L469.13,511.16 L469.83,511.63 L470.54,512.09 L471.26,512.52 L471.99,512.95 L472.72,513.35 L473.46,513.73 L474.21,514.10 L474.96,514.45 L475.72,514.78 L476.49,515.09 L477.26,515.38 L478.04,515.66 L478.82,515.91 L479.61,516.14 L480.40,516.36 L481.20,516.56 L482.00,516.73 L482.80,516.89 L483.61,517.02 L484.41,517.14 L485.22,517.24 L486.04,517.32 L486.85,517.37 L487.67,517.41 L488.48,517.43 L489.30,517.43 L490.11,517.41 L490.93,517.36 L491.75,517.30 L492.56,517.22 L493.37,517.12 L494.18,517.00 L494.99,516.86 L495.80,516.70 L496.61,516.52 L497.41,516.32 L498.20,516.10 L499.00,515.86 L499.79,515.60 L500.57,515.32 L501.35,515.03 L502.13,514.71 L502.90,514.38 L503.66,514.03 L504.42,513.65 L505.17,513.27 L505.91,512.86 L506.65,512.43 L507.38,511.99 L508.10,511.53 L508.81,511.05 L509.52,510.56 L510.21,510.05 L510.90,509.52 L511.58,508.97 L512.24,508.41 L512.90,507.84 L513.55,507.24 L514.18,506.63 L514.81,506.01 L515.43,505.37 L516.03,504.72 L516.62,504.05 L517.20,503.37 L517.77,502.68 L518.32,501.97 L518.87,501.25 L519.40,500.51 L519.91,499.76 L520.42,499.00 L520.91,498.23 L521.38,497.45 L521.84,496.66 L522.29,495.85 L522.72,495.04 L523.14,494.21 L523.55,493.38 L523.94,492.53 L524.31,491.68 L524.67,490.82 L525.01,489.95 L525.34,489.07 L525.65,488.18 L525.95,487.29 L526.23,486.39 L526.49,485.49 L526.74,484.57 L526.97,483.66 L527.18,482.73 L527.38,481.81 L527.56,480.88 L527.73,479.94 L527.88,479.00 L528.01,478.06 L528.12,477.12 L528.22,476.17 L528.30,475.22 L528.36,474.27 L528.41,473.32 L528.44,472.37 L528.45,471.42 L528.45,470.47 L528.43,469.51 L528.39,468.57 L528.33,467.62 L528.26,466.67 L528.17,465.73 L528.06,464.79 L527.94,463.85 L527.80,462.91 L527.64,461.98 L527.46,461.06 L527.27,460.14 L527.06,459.22 L526.84,458.31 L526.60,457.40 L526.34,456.51 L526.07,455.62 L525.78,454.73 L525.48,453.86 L525.15,452.99 L524.82,452.13 L524.47,451.27 L524.47,451.27" fill="none" stroke="#C29D30" stroke-width="1.5" stroke-dasharray="6.5 8.08"/>
<rect x="359.6" y="364.6" width="260.9" height="283.6" fill="none" stroke="#7a7a7a" stroke-width="1.1"/>
<line x1="376.2" y1="648.2" x2="376.2" y2="650.8" stroke="#7a7a7a" stroke-width="1.1"/>
<text x="376.2" y="661.7" font-size="10.8" fill="#111" text-anchor="middle">-0.25</text>
<line x1="455.9" y1="648.2" x2="455.9" y2="650.8" stroke="#7a7a7a" stroke-width="1.1"/>
<text x="455.9" y="661.7" font-size="10.8" fill="#111" text-anchor="middle">0.00</text>
<line x1="535.6" y1="648.2" x2="535.6" y2="650.8" stroke="#7a7a7a" stroke-width="1.1"/>
<text x="535.6" y="661.7" font-size="10.8" fill="#111" text-anchor="middle">0.25</text>
<line x1="615.3" y1="648.2" x2="615.3" y2="650.8" stroke="#7a7a7a" stroke-width="1.1"/>
<text x="615.3" y="661.7" font-size="10.8" fill="#111" text-anchor="middle">0.50</text>
<line x1="357" y1="386.16" x2="359.6" y2="386.16" stroke="#7a7a7a" stroke-width="1.1"/>
<text x="355.2" y="390.66" font-size="10.8" fill="#111" text-anchor="end">0.2</text>
<line x1="357" y1="454.9" x2="359.6" y2="454.9" stroke="#7a7a7a" stroke-width="1.1"/>
<text x="355.2" y="459.4" font-size="10.8" fill="#111" text-anchor="end">0.0</text>
<line x1="357" y1="523.64" x2="359.6" y2="523.64" stroke="#7a7a7a" stroke-width="1.1"/>
<text x="355.2" y="528.14" font-size="10.8" fill="#111" text-anchor="end">-0.2</text>
<line x1="357" y1="592.38" x2="359.6" y2="592.38" stroke="#7a7a7a" stroke-width="1.1"/>
<text x="355.2" y="596.88" font-size="10.8" fill="#111" text-anchor="end">-0.4</text>
<text x="490.05" y="680.8" font-size="11" fill="#000" text-anchor="middle" xml:space="preserve">Axis.1   [33.3%]</text>
<text x="325" y="506.4" font-size="11" fill="#000" text-anchor="middle" transform="rotate(-90 325 506.4)" xml:space="preserve">Axis.2   [17.2%]</text>
<text x="359.6" y="357" font-size="13.2" fill="#000">Endophyte (Summer)</text>
<text x="315.8" y="356.2" font-size="12" font-weight="bold" fill="#000">D</text>
<text x="630.2" y="311.9" font-size="11" fill="#000">Fungicides</text>
<line x1="631.5" y1="326.2" x2="638" y2="326.2" stroke="#C62D28" stroke-width="1.5"/>
<circle cx="638.6" cy="326.2" r="5.45" fill="#C62D28"/>
<text x="651.6" y="329.5" font-size="8.8" fill="#111">NT</text>
<line x1="631.5" y1="342.07" x2="638" y2="342.07" stroke="#02629A" stroke-width="1.5"/>
<circle cx="638.6" cy="342.07" r="5.45" fill="#02629A"/>
<text x="651.6" y="345.37" font-size="8.8" fill="#111">DL</text>
<line x1="631.5" y1="357.94" x2="638" y2="357.94" stroke="#C29D30" stroke-width="1.5"/>
<circle cx="638.6" cy="357.94" r="5.45" fill="#C29D30"/>
<text x="651.6" y="361.24" font-size="8.8" fill="#111">BM</text>
<line x1="631.5" y1="373.81" x2="638" y2="373.81" stroke="#0A8150" stroke-width="1.5"/>
<circle cx="638.6" cy="373.81" r="5.45" fill="#0A8150"/>
<text x="651.6" y="377.11" font-size="8.8" fill="#111">C2</text>
</svg></body></html>
